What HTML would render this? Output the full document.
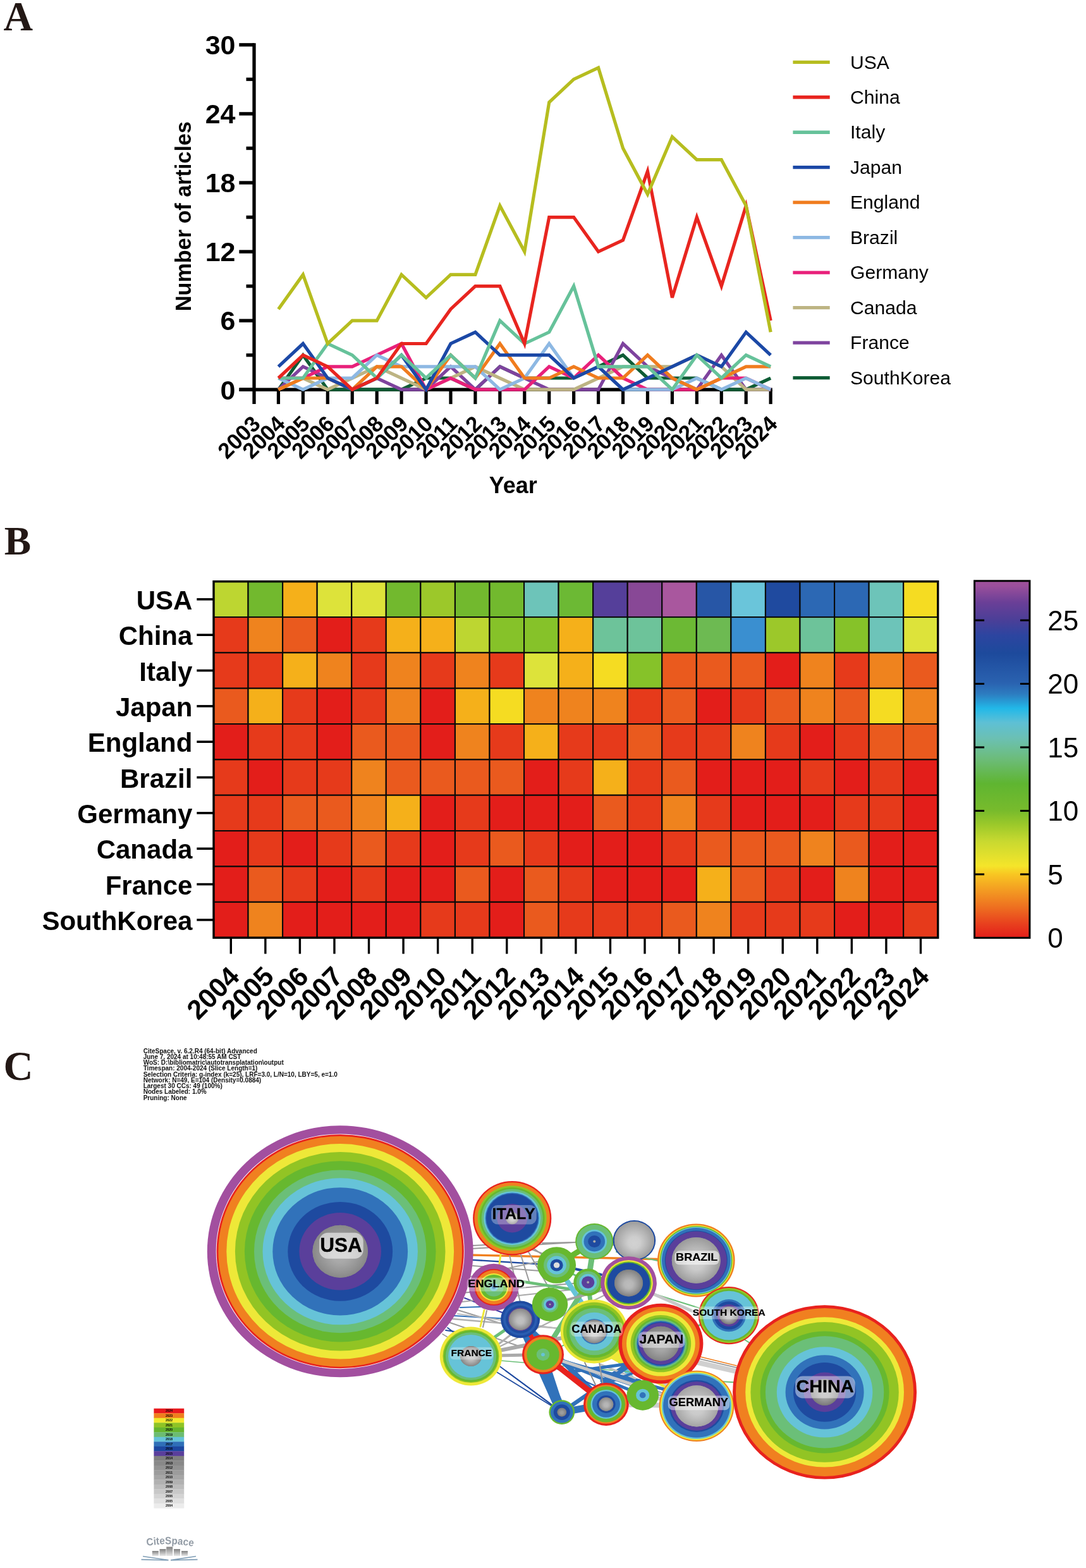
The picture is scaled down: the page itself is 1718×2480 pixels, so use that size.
<!DOCTYPE html>
<html><head><meta charset="utf-8"><title>Figure</title>
<style>html,body{margin:0;padding:0;background:#fff;} svg{display:block;}</style>
</head><body>
<svg width="1718" height="2480" viewBox="0 0 1718 2480">
<rect width="1718" height="2480" fill="#fff"/>
<text x="5.4" y="47.8" font-family="'Liberation Serif', 'Times New Roman', serif" font-weight="bold" font-size="64.5" fill="#231815">A</text>
<line x1="402.0" y1="68.2" x2="402.0" y2="639.1" stroke="#000" stroke-width="5.3"/>
<line x1="378.6" y1="616.2" x2="1221.735" y2="616.2" stroke="#000" stroke-width="5.5"/>
<line x1="378.3" y1="616.20" x2="402.0" y2="616.20" stroke="#000" stroke-width="5.4"/>
<text x="372.5" y="631.50" text-anchor="end" font-family="'Liberation Sans', Arial, sans-serif" font-weight="bold" font-size="43">0</text>
<line x1="389.5" y1="561.67" x2="402.0" y2="561.67" stroke="#000" stroke-width="5.4"/>
<line x1="378.3" y1="507.14" x2="402.0" y2="507.14" stroke="#000" stroke-width="5.4"/>
<text x="372.5" y="522.44" text-anchor="end" font-family="'Liberation Sans', Arial, sans-serif" font-weight="bold" font-size="43">6</text>
<line x1="389.5" y1="452.61" x2="402.0" y2="452.61" stroke="#000" stroke-width="5.4"/>
<line x1="378.3" y1="398.08" x2="402.0" y2="398.08" stroke="#000" stroke-width="5.4"/>
<text x="372.5" y="413.38" text-anchor="end" font-family="'Liberation Sans', Arial, sans-serif" font-weight="bold" font-size="43">12</text>
<line x1="389.5" y1="343.55" x2="402.0" y2="343.55" stroke="#000" stroke-width="5.4"/>
<line x1="378.3" y1="289.01" x2="402.0" y2="289.01" stroke="#000" stroke-width="5.4"/>
<text x="372.5" y="304.31" text-anchor="end" font-family="'Liberation Sans', Arial, sans-serif" font-weight="bold" font-size="43">18</text>
<line x1="389.5" y1="234.48" x2="402.0" y2="234.48" stroke="#000" stroke-width="5.4"/>
<line x1="378.3" y1="179.95" x2="402.0" y2="179.95" stroke="#000" stroke-width="5.4"/>
<text x="372.5" y="195.25" text-anchor="end" font-family="'Liberation Sans', Arial, sans-serif" font-weight="bold" font-size="43">24</text>
<line x1="389.5" y1="125.42" x2="402.0" y2="125.42" stroke="#000" stroke-width="5.4"/>
<line x1="378.3" y1="70.89" x2="402.0" y2="70.89" stroke="#000" stroke-width="5.4"/>
<text x="372.5" y="86.19" text-anchor="end" font-family="'Liberation Sans', Arial, sans-serif" font-weight="bold" font-size="43">30</text>
<line x1="440.44" y1="616.2" x2="440.44" y2="639.1" stroke="#000" stroke-width="5.2"/>
<line x1="479.37" y1="616.2" x2="479.37" y2="639.1" stroke="#000" stroke-width="5.2"/>
<line x1="518.31" y1="616.2" x2="518.31" y2="639.1" stroke="#000" stroke-width="5.2"/>
<line x1="557.24" y1="616.2" x2="557.24" y2="639.1" stroke="#000" stroke-width="5.2"/>
<line x1="596.17" y1="616.2" x2="596.17" y2="639.1" stroke="#000" stroke-width="5.2"/>
<line x1="635.11" y1="616.2" x2="635.11" y2="639.1" stroke="#000" stroke-width="5.2"/>
<line x1="674.05" y1="616.2" x2="674.05" y2="639.1" stroke="#000" stroke-width="5.2"/>
<line x1="712.98" y1="616.2" x2="712.98" y2="639.1" stroke="#000" stroke-width="5.2"/>
<line x1="751.91" y1="616.2" x2="751.91" y2="639.1" stroke="#000" stroke-width="5.2"/>
<line x1="790.85" y1="616.2" x2="790.85" y2="639.1" stroke="#000" stroke-width="5.2"/>
<line x1="829.79" y1="616.2" x2="829.79" y2="639.1" stroke="#000" stroke-width="5.2"/>
<line x1="868.72" y1="616.2" x2="868.72" y2="639.1" stroke="#000" stroke-width="5.2"/>
<line x1="907.65" y1="616.2" x2="907.65" y2="639.1" stroke="#000" stroke-width="5.2"/>
<line x1="946.59" y1="616.2" x2="946.59" y2="639.1" stroke="#000" stroke-width="5.2"/>
<line x1="985.53" y1="616.2" x2="985.53" y2="639.1" stroke="#000" stroke-width="5.2"/>
<line x1="1024.46" y1="616.2" x2="1024.46" y2="639.1" stroke="#000" stroke-width="5.2"/>
<line x1="1063.39" y1="616.2" x2="1063.39" y2="639.1" stroke="#000" stroke-width="5.2"/>
<line x1="1102.33" y1="616.2" x2="1102.33" y2="639.1" stroke="#000" stroke-width="5.2"/>
<line x1="1141.27" y1="616.2" x2="1141.27" y2="639.1" stroke="#000" stroke-width="5.2"/>
<line x1="1180.20" y1="616.2" x2="1180.20" y2="639.1" stroke="#000" stroke-width="5.2"/>
<line x1="1219.13" y1="616.2" x2="1219.13" y2="639.1" stroke="#000" stroke-width="5.2"/>
<text transform="translate(414.10,672.5) rotate(-45)" text-anchor="end" font-family="'Liberation Sans', Arial, sans-serif" font-weight="bold" font-size="35">2003</text>
<text transform="translate(453.04,672.5) rotate(-45)" text-anchor="end" font-family="'Liberation Sans', Arial, sans-serif" font-weight="bold" font-size="35">2004</text>
<text transform="translate(491.97,672.5) rotate(-45)" text-anchor="end" font-family="'Liberation Sans', Arial, sans-serif" font-weight="bold" font-size="35">2005</text>
<text transform="translate(530.91,672.5) rotate(-45)" text-anchor="end" font-family="'Liberation Sans', Arial, sans-serif" font-weight="bold" font-size="35">2006</text>
<text transform="translate(569.84,672.5) rotate(-45)" text-anchor="end" font-family="'Liberation Sans', Arial, sans-serif" font-weight="bold" font-size="35">2007</text>
<text transform="translate(608.77,672.5) rotate(-45)" text-anchor="end" font-family="'Liberation Sans', Arial, sans-serif" font-weight="bold" font-size="35">2008</text>
<text transform="translate(647.71,672.5) rotate(-45)" text-anchor="end" font-family="'Liberation Sans', Arial, sans-serif" font-weight="bold" font-size="35">2009</text>
<text transform="translate(686.65,672.5) rotate(-45)" text-anchor="end" font-family="'Liberation Sans', Arial, sans-serif" font-weight="bold" font-size="35">2010</text>
<text transform="translate(725.58,672.5) rotate(-45)" text-anchor="end" font-family="'Liberation Sans', Arial, sans-serif" font-weight="bold" font-size="35">2011</text>
<text transform="translate(764.51,672.5) rotate(-45)" text-anchor="end" font-family="'Liberation Sans', Arial, sans-serif" font-weight="bold" font-size="35">2012</text>
<text transform="translate(803.45,672.5) rotate(-45)" text-anchor="end" font-family="'Liberation Sans', Arial, sans-serif" font-weight="bold" font-size="35">2013</text>
<text transform="translate(842.39,672.5) rotate(-45)" text-anchor="end" font-family="'Liberation Sans', Arial, sans-serif" font-weight="bold" font-size="35">2014</text>
<text transform="translate(881.32,672.5) rotate(-45)" text-anchor="end" font-family="'Liberation Sans', Arial, sans-serif" font-weight="bold" font-size="35">2015</text>
<text transform="translate(920.25,672.5) rotate(-45)" text-anchor="end" font-family="'Liberation Sans', Arial, sans-serif" font-weight="bold" font-size="35">2016</text>
<text transform="translate(959.19,672.5) rotate(-45)" text-anchor="end" font-family="'Liberation Sans', Arial, sans-serif" font-weight="bold" font-size="35">2017</text>
<text transform="translate(998.13,672.5) rotate(-45)" text-anchor="end" font-family="'Liberation Sans', Arial, sans-serif" font-weight="bold" font-size="35">2018</text>
<text transform="translate(1037.06,672.5) rotate(-45)" text-anchor="end" font-family="'Liberation Sans', Arial, sans-serif" font-weight="bold" font-size="35">2019</text>
<text transform="translate(1075.99,672.5) rotate(-45)" text-anchor="end" font-family="'Liberation Sans', Arial, sans-serif" font-weight="bold" font-size="35">2020</text>
<text transform="translate(1114.93,672.5) rotate(-45)" text-anchor="end" font-family="'Liberation Sans', Arial, sans-serif" font-weight="bold" font-size="35">2021</text>
<text transform="translate(1153.87,672.5) rotate(-45)" text-anchor="end" font-family="'Liberation Sans', Arial, sans-serif" font-weight="bold" font-size="35">2022</text>
<text transform="translate(1192.80,672.5) rotate(-45)" text-anchor="end" font-family="'Liberation Sans', Arial, sans-serif" font-weight="bold" font-size="35">2023</text>
<text transform="translate(1231.73,672.5) rotate(-45)" text-anchor="end" font-family="'Liberation Sans', Arial, sans-serif" font-weight="bold" font-size="35">2024</text>
<text transform="translate(302.2,342.1) rotate(-90)" text-anchor="middle" font-family="'Liberation Sans', Arial, sans-serif" font-weight="bold" font-size="34.2">Number of articles</text>
<text x="811.7" y="780" text-anchor="middle" font-family="'Liberation Sans', Arial, sans-serif" font-weight="bold" font-size="36">Year</text>
<polyline points="440.44,616.20 479.37,561.67 518.31,616.20 557.24,616.20 596.17,616.20 635.11,616.20 674.05,598.02 712.98,598.02 751.91,616.20 790.85,579.85 829.79,598.02 868.72,598.02 907.65,598.02 946.59,579.85 985.53,561.67 1024.46,598.02 1063.39,598.02 1102.33,598.02 1141.27,616.20 1180.20,616.20 1219.13,598.02" fill="none" stroke="#0e5c35" stroke-width="5.2" stroke-linejoin="miter" stroke-miterlimit="4"/>
<polyline points="440.44,616.20 479.37,579.85 518.31,598.02 557.24,616.20 596.17,598.02 635.11,616.20 674.05,616.20 712.98,579.85 751.91,616.20 790.85,579.85 829.79,598.02 868.72,616.20 907.65,616.20 946.59,616.20 985.53,543.49 1024.46,579.85 1063.39,598.02 1102.33,616.20 1141.27,561.67 1180.20,616.20 1219.13,616.20" fill="none" stroke="#7e439e" stroke-width="5.2" stroke-linejoin="miter" stroke-miterlimit="4"/>
<polyline points="440.44,616.20 479.37,598.02 518.31,616.20 557.24,598.02 596.17,579.85 635.11,598.02 674.05,616.20 712.98,598.02 751.91,579.85 790.85,598.02 829.79,616.20 868.72,616.20 907.65,616.20 946.59,598.02 985.53,579.85 1024.46,579.85 1063.39,579.85 1102.33,561.67 1141.27,579.85 1180.20,616.20 1219.13,616.20" fill="none" stroke="#bdb483" stroke-width="5.2" stroke-linejoin="miter" stroke-miterlimit="4"/>
<polyline points="440.44,598.02 479.37,598.02 518.31,579.85 557.24,579.85 596.17,561.67 635.11,543.49 674.05,616.20 712.98,598.02 751.91,616.20 790.85,616.20 829.79,616.20 868.72,579.85 907.65,598.02 946.59,561.67 985.53,598.02 1024.46,616.20 1063.39,616.20 1102.33,616.20 1141.27,598.02 1180.20,598.02 1219.13,616.20" fill="none" stroke="#e8207a" stroke-width="5.2" stroke-linejoin="miter" stroke-miterlimit="4"/>
<polyline points="440.44,598.02 479.37,616.20 518.31,598.02 557.24,598.02 596.17,561.67 635.11,579.85 674.05,579.85 712.98,579.85 751.91,579.85 790.85,616.20 829.79,598.02 868.72,543.49 907.65,598.02 946.59,579.85 985.53,616.20 1024.46,616.20 1063.39,616.20 1102.33,598.02 1141.27,616.20 1180.20,598.02 1219.13,616.20" fill="none" stroke="#8db8e3" stroke-width="5.2" stroke-linejoin="miter" stroke-miterlimit="4"/>
<polyline points="440.44,616.20 479.37,598.02 518.31,598.02 557.24,616.20 596.17,579.85 635.11,579.85 674.05,616.20 712.98,561.67 751.91,598.02 790.85,543.49 829.79,598.02 868.72,598.02 907.65,579.85 946.59,598.02 985.53,598.02 1024.46,561.67 1063.39,598.02 1102.33,616.20 1141.27,598.02 1180.20,579.85 1219.13,579.85" fill="none" stroke="#f07c1e" stroke-width="5.2" stroke-linejoin="miter" stroke-miterlimit="4"/>
<polyline points="440.44,579.85 479.37,543.49 518.31,598.02 557.24,616.20 596.17,598.02 635.11,561.67 674.05,616.20 712.98,543.49 751.91,525.32 790.85,561.67 829.79,561.67 868.72,561.67 907.65,598.02 946.59,579.85 985.53,616.20 1024.46,598.02 1063.39,579.85 1102.33,561.67 1141.27,579.85 1180.20,525.32 1219.13,561.67" fill="none" stroke="#1b48a6" stroke-width="5.2" stroke-linejoin="miter" stroke-miterlimit="4"/>
<polyline points="440.44,598.02 479.37,598.02 518.31,543.49 557.24,561.67 596.17,598.02 635.11,561.67 674.05,598.02 712.98,561.67 751.91,598.02 790.85,507.14 829.79,543.49 868.72,525.32 907.65,452.61 946.59,579.85 985.53,579.85 1024.46,579.85 1063.39,616.20 1102.33,561.67 1141.27,598.02 1180.20,561.67 1219.13,579.85" fill="none" stroke="#66c29a" stroke-width="5.2" stroke-linejoin="miter" stroke-miterlimit="4"/>
<polyline points="440.44,598.02 479.37,561.67 518.31,579.85 557.24,616.20 596.17,598.02 635.11,543.49 674.05,543.49 712.98,488.96 751.91,452.61 790.85,452.61 829.79,543.49 868.72,343.55 907.65,343.55 946.59,398.08 985.53,379.90 1024.46,270.84 1063.39,470.78 1102.33,343.55 1141.27,452.61 1180.20,325.37 1219.13,507.14" fill="none" stroke="#e8251f" stroke-width="5.2" stroke-linejoin="miter" stroke-miterlimit="4"/>
<polyline points="440.44,488.96 479.37,434.43 518.31,543.49 557.24,507.14 596.17,507.14 635.11,434.43 674.05,470.78 712.98,434.43 751.91,434.43 790.85,325.37 829.79,398.08 868.72,161.78 907.65,125.42 946.59,107.24 985.53,234.48 1024.46,307.19 1063.39,216.31 1102.33,252.66 1141.27,252.66 1180.20,325.37 1219.13,525.32" fill="none" stroke="#b6bd1f" stroke-width="5.2" stroke-linejoin="miter" stroke-miterlimit="4"/>
<line x1="1254.4" y1="98.30" x2="1312.7" y2="98.30" stroke="#b6bd1f" stroke-width="5.3"/>
<text x="1345" y="108.50" font-family="'Liberation Sans', Arial, sans-serif" font-size="30.1">USA</text>
<line x1="1254.4" y1="153.77" x2="1312.7" y2="153.77" stroke="#e8251f" stroke-width="5.3"/>
<text x="1345" y="163.97" font-family="'Liberation Sans', Arial, sans-serif" font-size="30.1">China</text>
<line x1="1254.4" y1="209.24" x2="1312.7" y2="209.24" stroke="#66c29a" stroke-width="5.3"/>
<text x="1345" y="219.44" font-family="'Liberation Sans', Arial, sans-serif" font-size="30.1">Italy</text>
<line x1="1254.4" y1="264.71" x2="1312.7" y2="264.71" stroke="#1b48a6" stroke-width="5.3"/>
<text x="1345" y="274.91" font-family="'Liberation Sans', Arial, sans-serif" font-size="30.1">Japan</text>
<line x1="1254.4" y1="320.18" x2="1312.7" y2="320.18" stroke="#f07c1e" stroke-width="5.3"/>
<text x="1345" y="330.38" font-family="'Liberation Sans', Arial, sans-serif" font-size="30.1">England</text>
<line x1="1254.4" y1="375.65" x2="1312.7" y2="375.65" stroke="#8db8e3" stroke-width="5.3"/>
<text x="1345" y="385.85" font-family="'Liberation Sans', Arial, sans-serif" font-size="30.1">Brazil</text>
<line x1="1254.4" y1="431.12" x2="1312.7" y2="431.12" stroke="#e8207a" stroke-width="5.3"/>
<text x="1345" y="441.32" font-family="'Liberation Sans', Arial, sans-serif" font-size="30.1">Germany</text>
<line x1="1254.4" y1="486.59" x2="1312.7" y2="486.59" stroke="#bdb483" stroke-width="5.3"/>
<text x="1345" y="496.79" font-family="'Liberation Sans', Arial, sans-serif" font-size="30.1">Canada</text>
<line x1="1254.4" y1="542.06" x2="1312.7" y2="542.06" stroke="#7e439e" stroke-width="5.3"/>
<text x="1345" y="552.26" font-family="'Liberation Sans', Arial, sans-serif" font-size="30.1">France</text>
<line x1="1254.4" y1="597.53" x2="1312.7" y2="597.53" stroke="#0e5c35" stroke-width="5.3"/>
<text x="1345" y="607.73" font-family="'Liberation Sans', Arial, sans-serif" font-size="30.1">SouthKorea</text>
<text x="6.8" y="877.2" font-family="'Liberation Serif', 'Times New Roman', serif" font-weight="bold" font-size="63.5" fill="#231815">B</text>
<rect x="338.00" y="919.70" width="54.56" height="56.34" fill="#bdd631" stroke="#0a0a0a" stroke-width="2.1"/>
<rect x="392.56" y="919.70" width="54.56" height="56.34" fill="#72b92e" stroke="#0a0a0a" stroke-width="2.1"/>
<rect x="447.12" y="919.70" width="54.56" height="56.34" fill="#f5b01a" stroke="#0a0a0a" stroke-width="2.1"/>
<rect x="501.68" y="919.70" width="54.56" height="56.34" fill="#dde33a" stroke="#0a0a0a" stroke-width="2.1"/>
<rect x="556.24" y="919.70" width="54.56" height="56.34" fill="#dde33a" stroke="#0a0a0a" stroke-width="2.1"/>
<rect x="610.80" y="919.70" width="54.56" height="56.34" fill="#72b92e" stroke="#0a0a0a" stroke-width="2.1"/>
<rect x="665.36" y="919.70" width="54.56" height="56.34" fill="#9cc82a" stroke="#0a0a0a" stroke-width="2.1"/>
<rect x="719.92" y="919.70" width="54.56" height="56.34" fill="#72b92e" stroke="#0a0a0a" stroke-width="2.1"/>
<rect x="774.48" y="919.70" width="54.56" height="56.34" fill="#72b92e" stroke="#0a0a0a" stroke-width="2.1"/>
<rect x="829.04" y="919.70" width="54.56" height="56.34" fill="#6dc4b9" stroke="#0a0a0a" stroke-width="2.1"/>
<rect x="883.60" y="919.70" width="54.56" height="56.34" fill="#6cb934" stroke="#0a0a0a" stroke-width="2.1"/>
<rect x="938.16" y="919.70" width="54.56" height="56.34" fill="#553f9a" stroke="#0a0a0a" stroke-width="2.1"/>
<rect x="992.72" y="919.70" width="54.56" height="56.34" fill="#884896" stroke="#0a0a0a" stroke-width="2.1"/>
<rect x="1047.28" y="919.70" width="54.56" height="56.34" fill="#a9579e" stroke="#0a0a0a" stroke-width="2.1"/>
<rect x="1101.84" y="919.70" width="54.56" height="56.34" fill="#2756a6" stroke="#0a0a0a" stroke-width="2.1"/>
<rect x="1156.40" y="919.70" width="54.56" height="56.34" fill="#6ac5da" stroke="#0a0a0a" stroke-width="2.1"/>
<rect x="1210.96" y="919.70" width="54.56" height="56.34" fill="#1f4a9f" stroke="#0a0a0a" stroke-width="2.1"/>
<rect x="1265.52" y="919.70" width="54.56" height="56.34" fill="#2c68b4" stroke="#0a0a0a" stroke-width="2.1"/>
<rect x="1320.08" y="919.70" width="54.56" height="56.34" fill="#2c68b4" stroke="#0a0a0a" stroke-width="2.1"/>
<rect x="1374.64" y="919.70" width="54.56" height="56.34" fill="#6dc4b9" stroke="#0a0a0a" stroke-width="2.1"/>
<rect x="1429.20" y="919.70" width="54.56" height="56.34" fill="#f5dc22" stroke="#0a0a0a" stroke-width="2.1"/>
<rect x="338.00" y="976.04" width="54.56" height="56.34" fill="#e63a1b" stroke="#0a0a0a" stroke-width="2.1"/>
<rect x="392.56" y="976.04" width="54.56" height="56.34" fill="#ef831e" stroke="#0a0a0a" stroke-width="2.1"/>
<rect x="447.12" y="976.04" width="54.56" height="56.34" fill="#ea5a1e" stroke="#0a0a0a" stroke-width="2.1"/>
<rect x="501.68" y="976.04" width="54.56" height="56.34" fill="#e31e1a" stroke="#0a0a0a" stroke-width="2.1"/>
<rect x="556.24" y="976.04" width="54.56" height="56.34" fill="#e63a1b" stroke="#0a0a0a" stroke-width="2.1"/>
<rect x="610.80" y="976.04" width="54.56" height="56.34" fill="#f5b01a" stroke="#0a0a0a" stroke-width="2.1"/>
<rect x="665.36" y="976.04" width="54.56" height="56.34" fill="#f5b01a" stroke="#0a0a0a" stroke-width="2.1"/>
<rect x="719.92" y="976.04" width="54.56" height="56.34" fill="#bdd631" stroke="#0a0a0a" stroke-width="2.1"/>
<rect x="774.48" y="976.04" width="54.56" height="56.34" fill="#86c229" stroke="#0a0a0a" stroke-width="2.1"/>
<rect x="829.04" y="976.04" width="54.56" height="56.34" fill="#86c229" stroke="#0a0a0a" stroke-width="2.1"/>
<rect x="883.60" y="976.04" width="54.56" height="56.34" fill="#f5b01a" stroke="#0a0a0a" stroke-width="2.1"/>
<rect x="938.16" y="976.04" width="54.56" height="56.34" fill="#6dc39a" stroke="#0a0a0a" stroke-width="2.1"/>
<rect x="992.72" y="976.04" width="54.56" height="56.34" fill="#6dc39a" stroke="#0a0a0a" stroke-width="2.1"/>
<rect x="1047.28" y="976.04" width="54.56" height="56.34" fill="#6cb934" stroke="#0a0a0a" stroke-width="2.1"/>
<rect x="1101.84" y="976.04" width="54.56" height="56.34" fill="#6dba52" stroke="#0a0a0a" stroke-width="2.1"/>
<rect x="1156.40" y="976.04" width="54.56" height="56.34" fill="#3a8fd0" stroke="#0a0a0a" stroke-width="2.1"/>
<rect x="1210.96" y="976.04" width="54.56" height="56.34" fill="#9cc82a" stroke="#0a0a0a" stroke-width="2.1"/>
<rect x="1265.52" y="976.04" width="54.56" height="56.34" fill="#6dc39a" stroke="#0a0a0a" stroke-width="2.1"/>
<rect x="1320.08" y="976.04" width="54.56" height="56.34" fill="#86c229" stroke="#0a0a0a" stroke-width="2.1"/>
<rect x="1374.64" y="976.04" width="54.56" height="56.34" fill="#6dc4b9" stroke="#0a0a0a" stroke-width="2.1"/>
<rect x="1429.20" y="976.04" width="54.56" height="56.34" fill="#dde33a" stroke="#0a0a0a" stroke-width="2.1"/>
<rect x="338.00" y="1032.38" width="54.56" height="56.34" fill="#e63a1b" stroke="#0a0a0a" stroke-width="2.1"/>
<rect x="392.56" y="1032.38" width="54.56" height="56.34" fill="#e63a1b" stroke="#0a0a0a" stroke-width="2.1"/>
<rect x="447.12" y="1032.38" width="54.56" height="56.34" fill="#f5b01a" stroke="#0a0a0a" stroke-width="2.1"/>
<rect x="501.68" y="1032.38" width="54.56" height="56.34" fill="#ef831e" stroke="#0a0a0a" stroke-width="2.1"/>
<rect x="556.24" y="1032.38" width="54.56" height="56.34" fill="#e63a1b" stroke="#0a0a0a" stroke-width="2.1"/>
<rect x="610.80" y="1032.38" width="54.56" height="56.34" fill="#ef831e" stroke="#0a0a0a" stroke-width="2.1"/>
<rect x="665.36" y="1032.38" width="54.56" height="56.34" fill="#e63a1b" stroke="#0a0a0a" stroke-width="2.1"/>
<rect x="719.92" y="1032.38" width="54.56" height="56.34" fill="#ef831e" stroke="#0a0a0a" stroke-width="2.1"/>
<rect x="774.48" y="1032.38" width="54.56" height="56.34" fill="#e63a1b" stroke="#0a0a0a" stroke-width="2.1"/>
<rect x="829.04" y="1032.38" width="54.56" height="56.34" fill="#dde33a" stroke="#0a0a0a" stroke-width="2.1"/>
<rect x="883.60" y="1032.38" width="54.56" height="56.34" fill="#f5b01a" stroke="#0a0a0a" stroke-width="2.1"/>
<rect x="938.16" y="1032.38" width="54.56" height="56.34" fill="#f5dc22" stroke="#0a0a0a" stroke-width="2.1"/>
<rect x="992.72" y="1032.38" width="54.56" height="56.34" fill="#86c229" stroke="#0a0a0a" stroke-width="2.1"/>
<rect x="1047.28" y="1032.38" width="54.56" height="56.34" fill="#ea5a1e" stroke="#0a0a0a" stroke-width="2.1"/>
<rect x="1101.84" y="1032.38" width="54.56" height="56.34" fill="#ea5a1e" stroke="#0a0a0a" stroke-width="2.1"/>
<rect x="1156.40" y="1032.38" width="54.56" height="56.34" fill="#ea5a1e" stroke="#0a0a0a" stroke-width="2.1"/>
<rect x="1210.96" y="1032.38" width="54.56" height="56.34" fill="#e31e1a" stroke="#0a0a0a" stroke-width="2.1"/>
<rect x="1265.52" y="1032.38" width="54.56" height="56.34" fill="#ef831e" stroke="#0a0a0a" stroke-width="2.1"/>
<rect x="1320.08" y="1032.38" width="54.56" height="56.34" fill="#e63a1b" stroke="#0a0a0a" stroke-width="2.1"/>
<rect x="1374.64" y="1032.38" width="54.56" height="56.34" fill="#ef831e" stroke="#0a0a0a" stroke-width="2.1"/>
<rect x="1429.20" y="1032.38" width="54.56" height="56.34" fill="#ea5a1e" stroke="#0a0a0a" stroke-width="2.1"/>
<rect x="338.00" y="1088.72" width="54.56" height="56.34" fill="#ea5a1e" stroke="#0a0a0a" stroke-width="2.1"/>
<rect x="392.56" y="1088.72" width="54.56" height="56.34" fill="#f5b01a" stroke="#0a0a0a" stroke-width="2.1"/>
<rect x="447.12" y="1088.72" width="54.56" height="56.34" fill="#e63a1b" stroke="#0a0a0a" stroke-width="2.1"/>
<rect x="501.68" y="1088.72" width="54.56" height="56.34" fill="#e31e1a" stroke="#0a0a0a" stroke-width="2.1"/>
<rect x="556.24" y="1088.72" width="54.56" height="56.34" fill="#e63a1b" stroke="#0a0a0a" stroke-width="2.1"/>
<rect x="610.80" y="1088.72" width="54.56" height="56.34" fill="#ef831e" stroke="#0a0a0a" stroke-width="2.1"/>
<rect x="665.36" y="1088.72" width="54.56" height="56.34" fill="#e31e1a" stroke="#0a0a0a" stroke-width="2.1"/>
<rect x="719.92" y="1088.72" width="54.56" height="56.34" fill="#f5b01a" stroke="#0a0a0a" stroke-width="2.1"/>
<rect x="774.48" y="1088.72" width="54.56" height="56.34" fill="#f5dc22" stroke="#0a0a0a" stroke-width="2.1"/>
<rect x="829.04" y="1088.72" width="54.56" height="56.34" fill="#ef831e" stroke="#0a0a0a" stroke-width="2.1"/>
<rect x="883.60" y="1088.72" width="54.56" height="56.34" fill="#ef831e" stroke="#0a0a0a" stroke-width="2.1"/>
<rect x="938.16" y="1088.72" width="54.56" height="56.34" fill="#ef831e" stroke="#0a0a0a" stroke-width="2.1"/>
<rect x="992.72" y="1088.72" width="54.56" height="56.34" fill="#e63a1b" stroke="#0a0a0a" stroke-width="2.1"/>
<rect x="1047.28" y="1088.72" width="54.56" height="56.34" fill="#ea5a1e" stroke="#0a0a0a" stroke-width="2.1"/>
<rect x="1101.84" y="1088.72" width="54.56" height="56.34" fill="#e31e1a" stroke="#0a0a0a" stroke-width="2.1"/>
<rect x="1156.40" y="1088.72" width="54.56" height="56.34" fill="#e63a1b" stroke="#0a0a0a" stroke-width="2.1"/>
<rect x="1210.96" y="1088.72" width="54.56" height="56.34" fill="#ea5a1e" stroke="#0a0a0a" stroke-width="2.1"/>
<rect x="1265.52" y="1088.72" width="54.56" height="56.34" fill="#ef831e" stroke="#0a0a0a" stroke-width="2.1"/>
<rect x="1320.08" y="1088.72" width="54.56" height="56.34" fill="#ea5a1e" stroke="#0a0a0a" stroke-width="2.1"/>
<rect x="1374.64" y="1088.72" width="54.56" height="56.34" fill="#f5dc22" stroke="#0a0a0a" stroke-width="2.1"/>
<rect x="1429.20" y="1088.72" width="54.56" height="56.34" fill="#ef831e" stroke="#0a0a0a" stroke-width="2.1"/>
<rect x="338.00" y="1145.06" width="54.56" height="56.34" fill="#e31e1a" stroke="#0a0a0a" stroke-width="2.1"/>
<rect x="392.56" y="1145.06" width="54.56" height="56.34" fill="#e63a1b" stroke="#0a0a0a" stroke-width="2.1"/>
<rect x="447.12" y="1145.06" width="54.56" height="56.34" fill="#e63a1b" stroke="#0a0a0a" stroke-width="2.1"/>
<rect x="501.68" y="1145.06" width="54.56" height="56.34" fill="#e31e1a" stroke="#0a0a0a" stroke-width="2.1"/>
<rect x="556.24" y="1145.06" width="54.56" height="56.34" fill="#ea5a1e" stroke="#0a0a0a" stroke-width="2.1"/>
<rect x="610.80" y="1145.06" width="54.56" height="56.34" fill="#ea5a1e" stroke="#0a0a0a" stroke-width="2.1"/>
<rect x="665.36" y="1145.06" width="54.56" height="56.34" fill="#e31e1a" stroke="#0a0a0a" stroke-width="2.1"/>
<rect x="719.92" y="1145.06" width="54.56" height="56.34" fill="#ef831e" stroke="#0a0a0a" stroke-width="2.1"/>
<rect x="774.48" y="1145.06" width="54.56" height="56.34" fill="#e63a1b" stroke="#0a0a0a" stroke-width="2.1"/>
<rect x="829.04" y="1145.06" width="54.56" height="56.34" fill="#f5b01a" stroke="#0a0a0a" stroke-width="2.1"/>
<rect x="883.60" y="1145.06" width="54.56" height="56.34" fill="#e63a1b" stroke="#0a0a0a" stroke-width="2.1"/>
<rect x="938.16" y="1145.06" width="54.56" height="56.34" fill="#e63a1b" stroke="#0a0a0a" stroke-width="2.1"/>
<rect x="992.72" y="1145.06" width="54.56" height="56.34" fill="#ea5a1e" stroke="#0a0a0a" stroke-width="2.1"/>
<rect x="1047.28" y="1145.06" width="54.56" height="56.34" fill="#e63a1b" stroke="#0a0a0a" stroke-width="2.1"/>
<rect x="1101.84" y="1145.06" width="54.56" height="56.34" fill="#e63a1b" stroke="#0a0a0a" stroke-width="2.1"/>
<rect x="1156.40" y="1145.06" width="54.56" height="56.34" fill="#ef831e" stroke="#0a0a0a" stroke-width="2.1"/>
<rect x="1210.96" y="1145.06" width="54.56" height="56.34" fill="#e63a1b" stroke="#0a0a0a" stroke-width="2.1"/>
<rect x="1265.52" y="1145.06" width="54.56" height="56.34" fill="#e31e1a" stroke="#0a0a0a" stroke-width="2.1"/>
<rect x="1320.08" y="1145.06" width="54.56" height="56.34" fill="#e63a1b" stroke="#0a0a0a" stroke-width="2.1"/>
<rect x="1374.64" y="1145.06" width="54.56" height="56.34" fill="#ea5a1e" stroke="#0a0a0a" stroke-width="2.1"/>
<rect x="1429.20" y="1145.06" width="54.56" height="56.34" fill="#ea5a1e" stroke="#0a0a0a" stroke-width="2.1"/>
<rect x="338.00" y="1201.40" width="54.56" height="56.34" fill="#e63a1b" stroke="#0a0a0a" stroke-width="2.1"/>
<rect x="392.56" y="1201.40" width="54.56" height="56.34" fill="#e31e1a" stroke="#0a0a0a" stroke-width="2.1"/>
<rect x="447.12" y="1201.40" width="54.56" height="56.34" fill="#e63a1b" stroke="#0a0a0a" stroke-width="2.1"/>
<rect x="501.68" y="1201.40" width="54.56" height="56.34" fill="#e63a1b" stroke="#0a0a0a" stroke-width="2.1"/>
<rect x="556.24" y="1201.40" width="54.56" height="56.34" fill="#ef831e" stroke="#0a0a0a" stroke-width="2.1"/>
<rect x="610.80" y="1201.40" width="54.56" height="56.34" fill="#ea5a1e" stroke="#0a0a0a" stroke-width="2.1"/>
<rect x="665.36" y="1201.40" width="54.56" height="56.34" fill="#ea5a1e" stroke="#0a0a0a" stroke-width="2.1"/>
<rect x="719.92" y="1201.40" width="54.56" height="56.34" fill="#ea5a1e" stroke="#0a0a0a" stroke-width="2.1"/>
<rect x="774.48" y="1201.40" width="54.56" height="56.34" fill="#ea5a1e" stroke="#0a0a0a" stroke-width="2.1"/>
<rect x="829.04" y="1201.40" width="54.56" height="56.34" fill="#e31e1a" stroke="#0a0a0a" stroke-width="2.1"/>
<rect x="883.60" y="1201.40" width="54.56" height="56.34" fill="#e63a1b" stroke="#0a0a0a" stroke-width="2.1"/>
<rect x="938.16" y="1201.40" width="54.56" height="56.34" fill="#f5b01a" stroke="#0a0a0a" stroke-width="2.1"/>
<rect x="992.72" y="1201.40" width="54.56" height="56.34" fill="#e63a1b" stroke="#0a0a0a" stroke-width="2.1"/>
<rect x="1047.28" y="1201.40" width="54.56" height="56.34" fill="#ea5a1e" stroke="#0a0a0a" stroke-width="2.1"/>
<rect x="1101.84" y="1201.40" width="54.56" height="56.34" fill="#e31e1a" stroke="#0a0a0a" stroke-width="2.1"/>
<rect x="1156.40" y="1201.40" width="54.56" height="56.34" fill="#e31e1a" stroke="#0a0a0a" stroke-width="2.1"/>
<rect x="1210.96" y="1201.40" width="54.56" height="56.34" fill="#e31e1a" stroke="#0a0a0a" stroke-width="2.1"/>
<rect x="1265.52" y="1201.40" width="54.56" height="56.34" fill="#e63a1b" stroke="#0a0a0a" stroke-width="2.1"/>
<rect x="1320.08" y="1201.40" width="54.56" height="56.34" fill="#e31e1a" stroke="#0a0a0a" stroke-width="2.1"/>
<rect x="1374.64" y="1201.40" width="54.56" height="56.34" fill="#e63a1b" stroke="#0a0a0a" stroke-width="2.1"/>
<rect x="1429.20" y="1201.40" width="54.56" height="56.34" fill="#e31e1a" stroke="#0a0a0a" stroke-width="2.1"/>
<rect x="338.00" y="1257.74" width="54.56" height="56.34" fill="#e63a1b" stroke="#0a0a0a" stroke-width="2.1"/>
<rect x="392.56" y="1257.74" width="54.56" height="56.34" fill="#e63a1b" stroke="#0a0a0a" stroke-width="2.1"/>
<rect x="447.12" y="1257.74" width="54.56" height="56.34" fill="#ea5a1e" stroke="#0a0a0a" stroke-width="2.1"/>
<rect x="501.68" y="1257.74" width="54.56" height="56.34" fill="#ea5a1e" stroke="#0a0a0a" stroke-width="2.1"/>
<rect x="556.24" y="1257.74" width="54.56" height="56.34" fill="#ef831e" stroke="#0a0a0a" stroke-width="2.1"/>
<rect x="610.80" y="1257.74" width="54.56" height="56.34" fill="#f5b01a" stroke="#0a0a0a" stroke-width="2.1"/>
<rect x="665.36" y="1257.74" width="54.56" height="56.34" fill="#e31e1a" stroke="#0a0a0a" stroke-width="2.1"/>
<rect x="719.92" y="1257.74" width="54.56" height="56.34" fill="#e63a1b" stroke="#0a0a0a" stroke-width="2.1"/>
<rect x="774.48" y="1257.74" width="54.56" height="56.34" fill="#e31e1a" stroke="#0a0a0a" stroke-width="2.1"/>
<rect x="829.04" y="1257.74" width="54.56" height="56.34" fill="#e31e1a" stroke="#0a0a0a" stroke-width="2.1"/>
<rect x="883.60" y="1257.74" width="54.56" height="56.34" fill="#e31e1a" stroke="#0a0a0a" stroke-width="2.1"/>
<rect x="938.16" y="1257.74" width="54.56" height="56.34" fill="#ea5a1e" stroke="#0a0a0a" stroke-width="2.1"/>
<rect x="992.72" y="1257.74" width="54.56" height="56.34" fill="#e63a1b" stroke="#0a0a0a" stroke-width="2.1"/>
<rect x="1047.28" y="1257.74" width="54.56" height="56.34" fill="#ef831e" stroke="#0a0a0a" stroke-width="2.1"/>
<rect x="1101.84" y="1257.74" width="54.56" height="56.34" fill="#e63a1b" stroke="#0a0a0a" stroke-width="2.1"/>
<rect x="1156.40" y="1257.74" width="54.56" height="56.34" fill="#e31e1a" stroke="#0a0a0a" stroke-width="2.1"/>
<rect x="1210.96" y="1257.74" width="54.56" height="56.34" fill="#e31e1a" stroke="#0a0a0a" stroke-width="2.1"/>
<rect x="1265.52" y="1257.74" width="54.56" height="56.34" fill="#e31e1a" stroke="#0a0a0a" stroke-width="2.1"/>
<rect x="1320.08" y="1257.74" width="54.56" height="56.34" fill="#e63a1b" stroke="#0a0a0a" stroke-width="2.1"/>
<rect x="1374.64" y="1257.74" width="54.56" height="56.34" fill="#e63a1b" stroke="#0a0a0a" stroke-width="2.1"/>
<rect x="1429.20" y="1257.74" width="54.56" height="56.34" fill="#e31e1a" stroke="#0a0a0a" stroke-width="2.1"/>
<rect x="338.00" y="1314.08" width="54.56" height="56.34" fill="#e31e1a" stroke="#0a0a0a" stroke-width="2.1"/>
<rect x="392.56" y="1314.08" width="54.56" height="56.34" fill="#e63a1b" stroke="#0a0a0a" stroke-width="2.1"/>
<rect x="447.12" y="1314.08" width="54.56" height="56.34" fill="#e31e1a" stroke="#0a0a0a" stroke-width="2.1"/>
<rect x="501.68" y="1314.08" width="54.56" height="56.34" fill="#e63a1b" stroke="#0a0a0a" stroke-width="2.1"/>
<rect x="556.24" y="1314.08" width="54.56" height="56.34" fill="#ea5a1e" stroke="#0a0a0a" stroke-width="2.1"/>
<rect x="610.80" y="1314.08" width="54.56" height="56.34" fill="#e63a1b" stroke="#0a0a0a" stroke-width="2.1"/>
<rect x="665.36" y="1314.08" width="54.56" height="56.34" fill="#e31e1a" stroke="#0a0a0a" stroke-width="2.1"/>
<rect x="719.92" y="1314.08" width="54.56" height="56.34" fill="#e63a1b" stroke="#0a0a0a" stroke-width="2.1"/>
<rect x="774.48" y="1314.08" width="54.56" height="56.34" fill="#ea5a1e" stroke="#0a0a0a" stroke-width="2.1"/>
<rect x="829.04" y="1314.08" width="54.56" height="56.34" fill="#e63a1b" stroke="#0a0a0a" stroke-width="2.1"/>
<rect x="883.60" y="1314.08" width="54.56" height="56.34" fill="#e31e1a" stroke="#0a0a0a" stroke-width="2.1"/>
<rect x="938.16" y="1314.08" width="54.56" height="56.34" fill="#e31e1a" stroke="#0a0a0a" stroke-width="2.1"/>
<rect x="992.72" y="1314.08" width="54.56" height="56.34" fill="#e31e1a" stroke="#0a0a0a" stroke-width="2.1"/>
<rect x="1047.28" y="1314.08" width="54.56" height="56.34" fill="#e63a1b" stroke="#0a0a0a" stroke-width="2.1"/>
<rect x="1101.84" y="1314.08" width="54.56" height="56.34" fill="#ea5a1e" stroke="#0a0a0a" stroke-width="2.1"/>
<rect x="1156.40" y="1314.08" width="54.56" height="56.34" fill="#ea5a1e" stroke="#0a0a0a" stroke-width="2.1"/>
<rect x="1210.96" y="1314.08" width="54.56" height="56.34" fill="#ea5a1e" stroke="#0a0a0a" stroke-width="2.1"/>
<rect x="1265.52" y="1314.08" width="54.56" height="56.34" fill="#ef831e" stroke="#0a0a0a" stroke-width="2.1"/>
<rect x="1320.08" y="1314.08" width="54.56" height="56.34" fill="#ea5a1e" stroke="#0a0a0a" stroke-width="2.1"/>
<rect x="1374.64" y="1314.08" width="54.56" height="56.34" fill="#e31e1a" stroke="#0a0a0a" stroke-width="2.1"/>
<rect x="1429.20" y="1314.08" width="54.56" height="56.34" fill="#e31e1a" stroke="#0a0a0a" stroke-width="2.1"/>
<rect x="338.00" y="1370.42" width="54.56" height="56.34" fill="#e31e1a" stroke="#0a0a0a" stroke-width="2.1"/>
<rect x="392.56" y="1370.42" width="54.56" height="56.34" fill="#ea5a1e" stroke="#0a0a0a" stroke-width="2.1"/>
<rect x="447.12" y="1370.42" width="54.56" height="56.34" fill="#e63a1b" stroke="#0a0a0a" stroke-width="2.1"/>
<rect x="501.68" y="1370.42" width="54.56" height="56.34" fill="#e31e1a" stroke="#0a0a0a" stroke-width="2.1"/>
<rect x="556.24" y="1370.42" width="54.56" height="56.34" fill="#e63a1b" stroke="#0a0a0a" stroke-width="2.1"/>
<rect x="610.80" y="1370.42" width="54.56" height="56.34" fill="#e31e1a" stroke="#0a0a0a" stroke-width="2.1"/>
<rect x="665.36" y="1370.42" width="54.56" height="56.34" fill="#e31e1a" stroke="#0a0a0a" stroke-width="2.1"/>
<rect x="719.92" y="1370.42" width="54.56" height="56.34" fill="#ea5a1e" stroke="#0a0a0a" stroke-width="2.1"/>
<rect x="774.48" y="1370.42" width="54.56" height="56.34" fill="#e31e1a" stroke="#0a0a0a" stroke-width="2.1"/>
<rect x="829.04" y="1370.42" width="54.56" height="56.34" fill="#ea5a1e" stroke="#0a0a0a" stroke-width="2.1"/>
<rect x="883.60" y="1370.42" width="54.56" height="56.34" fill="#e63a1b" stroke="#0a0a0a" stroke-width="2.1"/>
<rect x="938.16" y="1370.42" width="54.56" height="56.34" fill="#e31e1a" stroke="#0a0a0a" stroke-width="2.1"/>
<rect x="992.72" y="1370.42" width="54.56" height="56.34" fill="#e31e1a" stroke="#0a0a0a" stroke-width="2.1"/>
<rect x="1047.28" y="1370.42" width="54.56" height="56.34" fill="#e31e1a" stroke="#0a0a0a" stroke-width="2.1"/>
<rect x="1101.84" y="1370.42" width="54.56" height="56.34" fill="#f5b01a" stroke="#0a0a0a" stroke-width="2.1"/>
<rect x="1156.40" y="1370.42" width="54.56" height="56.34" fill="#ea5a1e" stroke="#0a0a0a" stroke-width="2.1"/>
<rect x="1210.96" y="1370.42" width="54.56" height="56.34" fill="#e63a1b" stroke="#0a0a0a" stroke-width="2.1"/>
<rect x="1265.52" y="1370.42" width="54.56" height="56.34" fill="#e31e1a" stroke="#0a0a0a" stroke-width="2.1"/>
<rect x="1320.08" y="1370.42" width="54.56" height="56.34" fill="#ef831e" stroke="#0a0a0a" stroke-width="2.1"/>
<rect x="1374.64" y="1370.42" width="54.56" height="56.34" fill="#e31e1a" stroke="#0a0a0a" stroke-width="2.1"/>
<rect x="1429.20" y="1370.42" width="54.56" height="56.34" fill="#e31e1a" stroke="#0a0a0a" stroke-width="2.1"/>
<rect x="338.00" y="1426.76" width="54.56" height="56.34" fill="#e31e1a" stroke="#0a0a0a" stroke-width="2.1"/>
<rect x="392.56" y="1426.76" width="54.56" height="56.34" fill="#ef831e" stroke="#0a0a0a" stroke-width="2.1"/>
<rect x="447.12" y="1426.76" width="54.56" height="56.34" fill="#e31e1a" stroke="#0a0a0a" stroke-width="2.1"/>
<rect x="501.68" y="1426.76" width="54.56" height="56.34" fill="#e31e1a" stroke="#0a0a0a" stroke-width="2.1"/>
<rect x="556.24" y="1426.76" width="54.56" height="56.34" fill="#e31e1a" stroke="#0a0a0a" stroke-width="2.1"/>
<rect x="610.80" y="1426.76" width="54.56" height="56.34" fill="#e31e1a" stroke="#0a0a0a" stroke-width="2.1"/>
<rect x="665.36" y="1426.76" width="54.56" height="56.34" fill="#e63a1b" stroke="#0a0a0a" stroke-width="2.1"/>
<rect x="719.92" y="1426.76" width="54.56" height="56.34" fill="#e63a1b" stroke="#0a0a0a" stroke-width="2.1"/>
<rect x="774.48" y="1426.76" width="54.56" height="56.34" fill="#e31e1a" stroke="#0a0a0a" stroke-width="2.1"/>
<rect x="829.04" y="1426.76" width="54.56" height="56.34" fill="#ea5a1e" stroke="#0a0a0a" stroke-width="2.1"/>
<rect x="883.60" y="1426.76" width="54.56" height="56.34" fill="#e63a1b" stroke="#0a0a0a" stroke-width="2.1"/>
<rect x="938.16" y="1426.76" width="54.56" height="56.34" fill="#e63a1b" stroke="#0a0a0a" stroke-width="2.1"/>
<rect x="992.72" y="1426.76" width="54.56" height="56.34" fill="#e63a1b" stroke="#0a0a0a" stroke-width="2.1"/>
<rect x="1047.28" y="1426.76" width="54.56" height="56.34" fill="#ea5a1e" stroke="#0a0a0a" stroke-width="2.1"/>
<rect x="1101.84" y="1426.76" width="54.56" height="56.34" fill="#ef831e" stroke="#0a0a0a" stroke-width="2.1"/>
<rect x="1156.40" y="1426.76" width="54.56" height="56.34" fill="#e63a1b" stroke="#0a0a0a" stroke-width="2.1"/>
<rect x="1210.96" y="1426.76" width="54.56" height="56.34" fill="#e63a1b" stroke="#0a0a0a" stroke-width="2.1"/>
<rect x="1265.52" y="1426.76" width="54.56" height="56.34" fill="#e63a1b" stroke="#0a0a0a" stroke-width="2.1"/>
<rect x="1320.08" y="1426.76" width="54.56" height="56.34" fill="#e31e1a" stroke="#0a0a0a" stroke-width="2.1"/>
<rect x="1374.64" y="1426.76" width="54.56" height="56.34" fill="#e31e1a" stroke="#0a0a0a" stroke-width="2.1"/>
<rect x="1429.20" y="1426.76" width="54.56" height="56.34" fill="#e63a1b" stroke="#0a0a0a" stroke-width="2.1"/>
<rect x="338.00" y="919.70" width="1145.76" height="563.40" fill="none" stroke="#000" stroke-width="3.4"/>
<line x1="311.3" y1="947.87" x2="338.0" y2="947.87" stroke="#000" stroke-width="3.6"/>
<text x="304.4" y="963.87" text-anchor="end" font-family="'Liberation Sans', Arial, sans-serif" font-weight="bold" font-size="42">USA</text>
<line x1="311.3" y1="1004.21" x2="338.0" y2="1004.21" stroke="#000" stroke-width="3.6"/>
<text x="304.4" y="1020.21" text-anchor="end" font-family="'Liberation Sans', Arial, sans-serif" font-weight="bold" font-size="42">China</text>
<line x1="311.3" y1="1060.55" x2="338.0" y2="1060.55" stroke="#000" stroke-width="3.6"/>
<text x="304.4" y="1076.55" text-anchor="end" font-family="'Liberation Sans', Arial, sans-serif" font-weight="bold" font-size="42">Italy</text>
<line x1="311.3" y1="1116.89" x2="338.0" y2="1116.89" stroke="#000" stroke-width="3.6"/>
<text x="304.4" y="1132.89" text-anchor="end" font-family="'Liberation Sans', Arial, sans-serif" font-weight="bold" font-size="42">Japan</text>
<line x1="311.3" y1="1173.23" x2="338.0" y2="1173.23" stroke="#000" stroke-width="3.6"/>
<text x="304.4" y="1189.23" text-anchor="end" font-family="'Liberation Sans', Arial, sans-serif" font-weight="bold" font-size="42">England</text>
<line x1="311.3" y1="1229.57" x2="338.0" y2="1229.57" stroke="#000" stroke-width="3.6"/>
<text x="304.4" y="1245.57" text-anchor="end" font-family="'Liberation Sans', Arial, sans-serif" font-weight="bold" font-size="42">Brazil</text>
<line x1="311.3" y1="1285.91" x2="338.0" y2="1285.91" stroke="#000" stroke-width="3.6"/>
<text x="304.4" y="1301.91" text-anchor="end" font-family="'Liberation Sans', Arial, sans-serif" font-weight="bold" font-size="42">Germany</text>
<line x1="311.3" y1="1342.25" x2="338.0" y2="1342.25" stroke="#000" stroke-width="3.6"/>
<text x="304.4" y="1358.25" text-anchor="end" font-family="'Liberation Sans', Arial, sans-serif" font-weight="bold" font-size="42">Canada</text>
<line x1="311.3" y1="1398.59" x2="338.0" y2="1398.59" stroke="#000" stroke-width="3.6"/>
<text x="304.4" y="1414.59" text-anchor="end" font-family="'Liberation Sans', Arial, sans-serif" font-weight="bold" font-size="42">France</text>
<line x1="311.3" y1="1454.93" x2="338.0" y2="1454.93" stroke="#000" stroke-width="3.6"/>
<text x="304.4" y="1470.93" text-anchor="end" font-family="'Liberation Sans', Arial, sans-serif" font-weight="bold" font-size="42">SouthKorea</text>
<line x1="365.28" y1="1483.10" x2="365.28" y2="1508.6" stroke="#000" stroke-width="3.4"/>
<text transform="translate(381.18,1547) rotate(-45)" text-anchor="end" font-family="'Liberation Sans', Arial, sans-serif" font-weight="bold" font-size="43">2004</text>
<line x1="419.84" y1="1483.10" x2="419.84" y2="1508.6" stroke="#000" stroke-width="3.4"/>
<text transform="translate(435.74,1547) rotate(-45)" text-anchor="end" font-family="'Liberation Sans', Arial, sans-serif" font-weight="bold" font-size="43">2005</text>
<line x1="474.40" y1="1483.10" x2="474.40" y2="1508.6" stroke="#000" stroke-width="3.4"/>
<text transform="translate(490.30,1547) rotate(-45)" text-anchor="end" font-family="'Liberation Sans', Arial, sans-serif" font-weight="bold" font-size="43">2006</text>
<line x1="528.96" y1="1483.10" x2="528.96" y2="1508.6" stroke="#000" stroke-width="3.4"/>
<text transform="translate(544.86,1547) rotate(-45)" text-anchor="end" font-family="'Liberation Sans', Arial, sans-serif" font-weight="bold" font-size="43">2007</text>
<line x1="583.52" y1="1483.10" x2="583.52" y2="1508.6" stroke="#000" stroke-width="3.4"/>
<text transform="translate(599.42,1547) rotate(-45)" text-anchor="end" font-family="'Liberation Sans', Arial, sans-serif" font-weight="bold" font-size="43">2008</text>
<line x1="638.08" y1="1483.10" x2="638.08" y2="1508.6" stroke="#000" stroke-width="3.4"/>
<text transform="translate(653.98,1547) rotate(-45)" text-anchor="end" font-family="'Liberation Sans', Arial, sans-serif" font-weight="bold" font-size="43">2009</text>
<line x1="692.64" y1="1483.10" x2="692.64" y2="1508.6" stroke="#000" stroke-width="3.4"/>
<text transform="translate(708.54,1547) rotate(-45)" text-anchor="end" font-family="'Liberation Sans', Arial, sans-serif" font-weight="bold" font-size="43">2010</text>
<line x1="747.20" y1="1483.10" x2="747.20" y2="1508.6" stroke="#000" stroke-width="3.4"/>
<text transform="translate(763.10,1547) rotate(-45)" text-anchor="end" font-family="'Liberation Sans', Arial, sans-serif" font-weight="bold" font-size="43">2011</text>
<line x1="801.76" y1="1483.10" x2="801.76" y2="1508.6" stroke="#000" stroke-width="3.4"/>
<text transform="translate(817.66,1547) rotate(-45)" text-anchor="end" font-family="'Liberation Sans', Arial, sans-serif" font-weight="bold" font-size="43">2012</text>
<line x1="856.32" y1="1483.10" x2="856.32" y2="1508.6" stroke="#000" stroke-width="3.4"/>
<text transform="translate(872.22,1547) rotate(-45)" text-anchor="end" font-family="'Liberation Sans', Arial, sans-serif" font-weight="bold" font-size="43">2013</text>
<line x1="910.88" y1="1483.10" x2="910.88" y2="1508.6" stroke="#000" stroke-width="3.4"/>
<text transform="translate(926.78,1547) rotate(-45)" text-anchor="end" font-family="'Liberation Sans', Arial, sans-serif" font-weight="bold" font-size="43">2014</text>
<line x1="965.44" y1="1483.10" x2="965.44" y2="1508.6" stroke="#000" stroke-width="3.4"/>
<text transform="translate(981.34,1547) rotate(-45)" text-anchor="end" font-family="'Liberation Sans', Arial, sans-serif" font-weight="bold" font-size="43">2015</text>
<line x1="1020.00" y1="1483.10" x2="1020.00" y2="1508.6" stroke="#000" stroke-width="3.4"/>
<text transform="translate(1035.90,1547) rotate(-45)" text-anchor="end" font-family="'Liberation Sans', Arial, sans-serif" font-weight="bold" font-size="43">2016</text>
<line x1="1074.56" y1="1483.10" x2="1074.56" y2="1508.6" stroke="#000" stroke-width="3.4"/>
<text transform="translate(1090.46,1547) rotate(-45)" text-anchor="end" font-family="'Liberation Sans', Arial, sans-serif" font-weight="bold" font-size="43">2017</text>
<line x1="1129.12" y1="1483.10" x2="1129.12" y2="1508.6" stroke="#000" stroke-width="3.4"/>
<text transform="translate(1145.02,1547) rotate(-45)" text-anchor="end" font-family="'Liberation Sans', Arial, sans-serif" font-weight="bold" font-size="43">2018</text>
<line x1="1183.68" y1="1483.10" x2="1183.68" y2="1508.6" stroke="#000" stroke-width="3.4"/>
<text transform="translate(1199.58,1547) rotate(-45)" text-anchor="end" font-family="'Liberation Sans', Arial, sans-serif" font-weight="bold" font-size="43">2019</text>
<line x1="1238.24" y1="1483.10" x2="1238.24" y2="1508.6" stroke="#000" stroke-width="3.4"/>
<text transform="translate(1254.14,1547) rotate(-45)" text-anchor="end" font-family="'Liberation Sans', Arial, sans-serif" font-weight="bold" font-size="43">2020</text>
<line x1="1292.80" y1="1483.10" x2="1292.80" y2="1508.6" stroke="#000" stroke-width="3.4"/>
<text transform="translate(1308.70,1547) rotate(-45)" text-anchor="end" font-family="'Liberation Sans', Arial, sans-serif" font-weight="bold" font-size="43">2021</text>
<line x1="1347.36" y1="1483.10" x2="1347.36" y2="1508.6" stroke="#000" stroke-width="3.4"/>
<text transform="translate(1363.26,1547) rotate(-45)" text-anchor="end" font-family="'Liberation Sans', Arial, sans-serif" font-weight="bold" font-size="43">2022</text>
<line x1="1401.92" y1="1483.10" x2="1401.92" y2="1508.6" stroke="#000" stroke-width="3.4"/>
<text transform="translate(1417.82,1547) rotate(-45)" text-anchor="end" font-family="'Liberation Sans', Arial, sans-serif" font-weight="bold" font-size="43">2023</text>
<line x1="1456.48" y1="1483.10" x2="1456.48" y2="1508.6" stroke="#000" stroke-width="3.4"/>
<text transform="translate(1472.38,1547) rotate(-45)" text-anchor="end" font-family="'Liberation Sans', Arial, sans-serif" font-weight="bold" font-size="43">2024</text>
<defs><linearGradient id="cb" x1="0" y1="0" x2="0" y2="1"><stop offset="0.0000" stop-color="#a0529c"/><stop offset="0.0142" stop-color="#9a4f9b"/><stop offset="0.0605" stop-color="#6a3f97"/><stop offset="0.1110" stop-color="#4a3f98"/><stop offset="0.1530" stop-color="#2c45a0"/><stop offset="0.2028" stop-color="#1d4a9c"/><stop offset="0.2858" stop-color="#2a62b0"/><stop offset="0.3167" stop-color="#2d7cc0"/><stop offset="0.3573" stop-color="#22b8e8"/><stop offset="0.3968" stop-color="#5ec0d5"/><stop offset="0.4413" stop-color="#6bc0b3"/><stop offset="0.4662" stop-color="#6cbf9a"/><stop offset="0.4982" stop-color="#6cbc7a"/><stop offset="0.5676" stop-color="#5fb531"/><stop offset="0.6441" stop-color="#78bb2c"/><stop offset="0.6833" stop-color="#9cc92a"/><stop offset="0.7295" stop-color="#c8d930"/><stop offset="0.7986" stop-color="#f5e52a"/><stop offset="0.8221" stop-color="#f8c622"/><stop offset="0.8683" stop-color="#f39a22"/><stop offset="0.9146" stop-color="#ee6f20"/><stop offset="0.9609" stop-color="#e8401e"/><stop offset="1.0000" stop-color="#e31e1a"/></linearGradient></defs>
<rect x="1541.6" y="918.8" width="87.3" height="564.5" fill="url(#cb)" stroke="#000" stroke-width="3"/>
<text x="1657.3" y="1499.10" font-family="'Liberation Sans', Arial, sans-serif" font-size="44">0</text>
<line x1="1541.6" y1="1382.86" x2="1557.1" y2="1382.86" stroke="#000" stroke-width="3"/>
<line x1="1613.9" y1="1382.86" x2="1628.9" y2="1382.86" stroke="#000" stroke-width="3"/>
<text x="1657.3" y="1398.66" font-family="'Liberation Sans', Arial, sans-serif" font-size="44">5</text>
<line x1="1541.6" y1="1282.41" x2="1557.1" y2="1282.41" stroke="#000" stroke-width="3"/>
<line x1="1613.9" y1="1282.41" x2="1628.9" y2="1282.41" stroke="#000" stroke-width="3"/>
<text x="1657.3" y="1298.21" font-family="'Liberation Sans', Arial, sans-serif" font-size="44">10</text>
<line x1="1541.6" y1="1181.97" x2="1557.1" y2="1181.97" stroke="#000" stroke-width="3"/>
<line x1="1613.9" y1="1181.97" x2="1628.9" y2="1181.97" stroke="#000" stroke-width="3"/>
<text x="1657.3" y="1197.77" font-family="'Liberation Sans', Arial, sans-serif" font-size="44">15</text>
<line x1="1541.6" y1="1081.52" x2="1557.1" y2="1081.52" stroke="#000" stroke-width="3"/>
<line x1="1613.9" y1="1081.52" x2="1628.9" y2="1081.52" stroke="#000" stroke-width="3"/>
<text x="1657.3" y="1097.32" font-family="'Liberation Sans', Arial, sans-serif" font-size="44">20</text>
<line x1="1541.6" y1="981.08" x2="1557.1" y2="981.08" stroke="#000" stroke-width="3"/>
<line x1="1613.9" y1="981.08" x2="1628.9" y2="981.08" stroke="#000" stroke-width="3"/>
<text x="1657.3" y="996.88" font-family="'Liberation Sans', Arial, sans-serif" font-size="44">25</text>
<text x="5.6" y="1708.3" font-family="'Liberation Serif', 'Times New Roman', serif" font-weight="bold" font-size="65" fill="#231815">C</text>
<text x="226.7" y="1665.50" font-family="'Liberation Sans', Arial, sans-serif" font-weight="bold" font-size="10" fill="#111">CiteSpace, v. 6.2.R4 (64-bit) Advanced</text>
<text x="226.7" y="1674.77" font-family="'Liberation Sans', Arial, sans-serif" font-weight="bold" font-size="10" fill="#111">June 7, 2024 at 10:48:55 AM CST</text>
<text x="226.7" y="1684.04" font-family="'Liberation Sans', Arial, sans-serif" font-weight="bold" font-size="10" fill="#111">WoS: D:\bibliomatric\autotransplatation\output</text>
<text x="226.7" y="1693.31" font-family="'Liberation Sans', Arial, sans-serif" font-weight="bold" font-size="10" fill="#111">Timespan: 2004-2024 (Slice Length=1)</text>
<text x="226.7" y="1702.58" font-family="'Liberation Sans', Arial, sans-serif" font-weight="bold" font-size="10" fill="#111">Selection Criteria: g-index (k=25), LRF=3.0, L/N=10, LBY=5, e=1.0</text>
<text x="226.7" y="1711.85" font-family="'Liberation Sans', Arial, sans-serif" font-weight="bold" font-size="10" fill="#111">Network: N=49, E=104 (Density=0.0884)</text>
<text x="226.7" y="1721.12" font-family="'Liberation Sans', Arial, sans-serif" font-weight="bold" font-size="10" fill="#111">Largest 30 CCs: 49 (100%)</text>
<text x="226.7" y="1730.39" font-family="'Liberation Sans', Arial, sans-serif" font-weight="bold" font-size="10" fill="#111">Nodes Labeled: 1.0%</text>
<text x="226.7" y="1739.66" font-family="'Liberation Sans', Arial, sans-serif" font-weight="bold" font-size="10" fill="#111">Pruning: None</text>
<line x1="745" y1="1985" x2="1040" y2="1991.5" stroke="#f08020" stroke-width="3.4" stroke-linecap="round"/>
<line x1="745" y1="1992.6" x2="880" y2="2001" stroke="#1e4aa0" stroke-width="2.4" stroke-linecap="round"/>
<line x1="748" y1="1970" x2="790" y2="1968" stroke="#9a9a9a" stroke-width="2" stroke-linecap="round"/>
<line x1="748" y1="2002" x2="880" y2="2012" stroke="#9a9a9a" stroke-width="2" stroke-linecap="round"/>
<line x1="745" y1="1975" x2="940" y2="1963" stroke="#9a9a9a" stroke-width="2" stroke-linecap="round"/>
<line x1="740" y1="2020" x2="1003" y2="1962" stroke="#a8a8a8" stroke-width="2" stroke-linecap="round"/>
<line x1="735" y1="2053" x2="823" y2="2087" stroke="#3a3aa8" stroke-width="2" stroke-linecap="round"/>
<line x1="728" y1="2068" x2="870" y2="2063" stroke="#3172ba" stroke-width="2" stroke-linecap="round"/>
<line x1="724" y1="2072" x2="880" y2="2120" stroke="#9a9a9a" stroke-width="2" stroke-linecap="round"/>
<line x1="718" y1="2081" x2="823" y2="2087" stroke="#3172ba" stroke-width="2" stroke-linecap="round"/>
<line x1="722" y1="2060" x2="994" y2="2030" stroke="#a8a8a8" stroke-width="2" stroke-linecap="round"/>
<line x1="730" y1="2045" x2="930" y2="2028" stroke="#9a9a9a" stroke-width="2" stroke-linecap="round"/>
<line x1="712" y1="2092" x2="859" y2="2142" stroke="#9a9a9a" stroke-width="2" stroke-linecap="round"/>
<line x1="716" y1="2086" x2="940" y2="2106" stroke="#b0b0b0" stroke-width="2.5" stroke-linecap="round"/>
<line x1="708" y1="2100" x2="889" y2="2234" stroke="#1e4aa0" stroke-width="1.8" stroke-linecap="round"/>
<line x1="705" y1="2104" x2="745" y2="2110" stroke="#1e4aa0" stroke-width="1.8" stroke-linecap="round"/>
<line x1="700" y1="2110" x2="720" y2="2122" stroke="#9a9a9a" stroke-width="1.6" stroke-linecap="round"/>
<line x1="724" y1="2078" x2="1045" y2="2125" stroke="#bdbdbd" stroke-width="2" stroke-linecap="round"/>
<line x1="792" y1="1984" x2="790" y2="1999" stroke="#eee838" stroke-width="3" stroke-linecap="round"/>
<line x1="766" y1="2072" x2="760" y2="2098" stroke="#eee838" stroke-width="3" stroke-linecap="round"/>
<line x1="770" y1="2073" x2="764" y2="2099" stroke="#9a9a9a" stroke-width="2" stroke-linecap="round"/>
<line x1="824" y1="1985" x2="838" y2="2030" stroke="#9a9a9a" stroke-width="2" stroke-linecap="round"/>
<line x1="845" y1="1975" x2="880" y2="2001" stroke="#9a9a9a" stroke-width="2" stroke-linecap="round"/>
<line x1="858" y1="1966" x2="910" y2="1965" stroke="#9a9a9a" stroke-width="2" stroke-linecap="round"/>
<line x1="838" y1="1975" x2="910" y2="2002" stroke="#9a9a9a" stroke-width="2" stroke-linecap="round"/>
<line x1="806" y1="1985" x2="823" y2="2060" stroke="#9a9a9a" stroke-width="2" stroke-linecap="round"/>
<line x1="836" y1="1980" x2="870" y2="2040" stroke="#9a9a9a" stroke-width="2" stroke-linecap="round"/>
<line x1="880.6" y1="2001.0" x2="940.3" y2="1963.5" stroke="#67b82f" stroke-width="9" stroke-linecap="round"/>
<line x1="940.3" y1="1963.5" x2="930.2" y2="2028.1" stroke="#6bbf78" stroke-width="9" stroke-linecap="round"/>
<line x1="880.6" y1="2001.0" x2="930.2" y2="2028.1" stroke="#6bbf78" stroke-width="3" stroke-linecap="round"/>
<line x1="820" y1="2026" x2="909" y2="2040" stroke="#6bbf78" stroke-width="4.5" stroke-linecap="round"/>
<line x1="930.2" y1="2028.1" x2="940.0" y2="2106.0" stroke="#6bbf78" stroke-width="7" stroke-linecap="round"/>
<line x1="880.6" y1="2001.0" x2="1016.7" y2="2206.7" stroke="#66c3d8" stroke-width="8" stroke-linecap="round"/>
<line x1="930.2" y1="2028.1" x2="859.0" y2="2142.4" stroke="#6bbf78" stroke-width="8" stroke-linecap="round"/>
<line x1="870.0" y1="2063.1" x2="994.5" y2="2029.2" stroke="#a0a0a0" stroke-width="4" stroke-linecap="round"/>
<line x1="870.0" y1="2063.1" x2="940.0" y2="2106.0" stroke="#a8a8a8" stroke-width="5" stroke-linecap="round"/>
<line x1="910" y1="2007" x2="951" y2="2016" stroke="#1e4aa0" stroke-width="4" stroke-linecap="round"/>
<line x1="940.3" y1="1963.5" x2="1003.4" y2="1962.0" stroke="#a8a8a8" stroke-width="2" stroke-linecap="round"/>
<line x1="975" y1="1980" x2="1045" y2="1995" stroke="#6bbf78" stroke-width="2" stroke-linecap="round"/>
<line x1="1030" y1="2045" x2="1110" y2="2070" stroke="#6bbf78" stroke-width="2" stroke-linecap="round"/>
<line x1="1095" y1="2100" x2="1153" y2="2080" stroke="#6bbf78" stroke-width="3" stroke-linecap="round"/>
<line x1="1030" y1="2045" x2="1105" y2="2078" stroke="#c8c8c8" stroke-width="5" stroke-linecap="round"/>
<line x1="745.0" y1="2145.0" x2="940.0" y2="2106.0" stroke="#aaaaaa" stroke-width="6" stroke-linecap="round"/>
<line x1="745.0" y1="2145.0" x2="859.0" y2="2142.4" stroke="#aaaaaa" stroke-width="5" stroke-linecap="round"/>
<line x1="775" y1="2120" x2="823" y2="2087" stroke="#6bbf78" stroke-width="5" stroke-linecap="round"/>
<line x1="745.0" y1="2145.0" x2="888.8" y2="2233.6" stroke="#1e4aa0" stroke-width="1.8" stroke-linecap="round"/>
<line x1="792" y1="2152" x2="1000" y2="2170" stroke="#6bbf78" stroke-width="1.6" stroke-linecap="round"/>
<line x1="790" y1="2130" x2="994" y2="2030" stroke="#aaaaaa" stroke-width="2" stroke-linecap="round"/>
<line x1="790" y1="2125" x2="870" y2="2063" stroke="#b0b0b0" stroke-width="3" stroke-linecap="round"/>
<line x1="945" y1="2128" x2="1080" y2="2202" stroke="#eee838" stroke-width="16" stroke-linecap="round"/>
<line x1="823.1" y1="2086.8" x2="958.9" y2="2221.0" stroke="#3172ba" stroke-width="8" stroke-linecap="round"/>
<line x1="935" y1="2165" x2="1012" y2="2184" stroke="#3172ba" stroke-width="5" stroke-linecap="round"/>
<line x1="952" y1="2184" x2="992" y2="2158" stroke="#3172ba" stroke-width="5" stroke-linecap="round"/>
<line x1="950" y1="2158" x2="1005" y2="2180" stroke="#c0c0c0" stroke-width="3" stroke-linecap="round"/>
<line x1="823.1" y1="2086.8" x2="888.8" y2="2233.6" stroke="#3172ba" stroke-width="16" stroke-linecap="round"/>
<line x1="859.0" y1="2142.4" x2="888.8" y2="2233.6" stroke="#3172ba" stroke-width="11" stroke-linecap="round"/>
<line x1="888.8" y1="2233.6" x2="958.9" y2="2221.0" stroke="#3172ba" stroke-width="11" stroke-linecap="round"/>
<line x1="888.8" y1="2233.6" x2="1045.4" y2="2125.1" stroke="#3172ba" stroke-width="6.5" stroke-linecap="round"/>
<line x1="859.0" y1="2142.4" x2="1102.0" y2="2223.8" stroke="#3172ba" stroke-width="6.5" stroke-linecap="round"/>
<line x1="859.0" y1="2142.4" x2="1016.7" y2="2206.7" stroke="#3172ba" stroke-width="5" stroke-linecap="round"/>
<line x1="880" y1="2150" x2="1060" y2="2200" stroke="#3172ba" stroke-width="5" stroke-linecap="round"/>
<line x1="900" y1="2170" x2="1045" y2="2150" stroke="#3172ba" stroke-width="5" stroke-linecap="round"/>
<line x1="930" y1="2200" x2="1030" y2="2160" stroke="#3172ba" stroke-width="4" stroke-linecap="round"/>
<line x1="870" y1="2160" x2="960" y2="2200" stroke="#2a62b8" stroke-width="2" stroke-linecap="round"/>
<line x1="823.1" y1="2086.8" x2="859.0" y2="2142.4" stroke="#e8221e" stroke-width="7" stroke-linecap="round"/>
<line x1="859.0" y1="2142.4" x2="958.9" y2="2221.0" stroke="#e8221e" stroke-width="9" stroke-linecap="round"/>
<line x1="800" y1="2168" x2="872" y2="2221" stroke="#1e4aa0" stroke-width="1.8" stroke-linecap="round"/>
<line x1="925" y1="2155" x2="942" y2="2190" stroke="#8a8a8a" stroke-width="1.8" stroke-linecap="round"/>
<line x1="859.0" y1="2142.4" x2="1102.0" y2="2223.8" stroke="#c8c8c8" stroke-width="5" stroke-linecap="round"/>
<line x1="940.0" y1="2106.0" x2="1102.0" y2="2223.8" stroke="#c8c8c8" stroke-width="6" stroke-linecap="round"/>
<line x1="958.9" y1="2221.0" x2="1102.0" y2="2223.8" stroke="#cccccc" stroke-width="8" stroke-linecap="round"/>
<line x1="1016.7" y1="2206.7" x2="1102.0" y2="2223.8" stroke="#cccccc" stroke-width="6" stroke-linecap="round"/>
<line x1="1100" y1="2154" x2="1165" y2="2169" stroke="#d0d0d0" stroke-width="8" stroke-linecap="round"/>
<line x1="1106" y1="2149" x2="1165" y2="2163" stroke="#8a8a8a" stroke-width="1.5" stroke-linecap="round"/>
<line x1="1108" y1="2146" x2="1165" y2="2160" stroke="#f08020" stroke-width="1.6" stroke-linecap="round"/>
<line x1="1140" y1="2185" x2="1165" y2="2186.5" stroke="#6bbf78" stroke-width="2" stroke-linecap="round"/>
<line x1="1175" y1="2117" x2="1186" y2="2124" stroke="#6bbf78" stroke-width="2" stroke-linecap="round"/>
<line x1="940.0" y1="2106.0" x2="1045.4" y2="2125.1" stroke="#cccccc" stroke-width="8" stroke-linecap="round"/>
<line x1="940.0" y1="2106.0" x2="958.9" y2="2221.0" stroke="#999999" stroke-width="2" stroke-linecap="round"/>
<line x1="859.0" y1="2142.4" x2="940.0" y2="2106.0" stroke="#6bbf78" stroke-width="2" stroke-linecap="round"/>
<ellipse cx="538.2" cy="1979.3" rx="210.4" ry="199.04" fill="#a24f9f"/>
<ellipse cx="538.2" cy="1979.3" rx="196.5" ry="185.89" fill="#ffffff"/>
<ellipse cx="538.2" cy="1979.3" rx="195.6" ry="185.04" fill="#e8221e"/>
<ellipse cx="538.2" cy="1979.3" rx="192.8" ry="182.39" fill="#f08020"/>
<ellipse cx="538.2" cy="1979.3" rx="179.9" ry="170.19" fill="#eee838"/>
<ellipse cx="538.2" cy="1979.3" rx="166.3" ry="157.32" fill="#92c424"/>
<ellipse cx="538.2" cy="1979.3" rx="151.3" ry="143.13" fill="#67b82f"/>
<ellipse cx="538.2" cy="1979.3" rx="136.2" ry="128.85" fill="#6bbf78"/>
<ellipse cx="538.2" cy="1979.3" rx="122.7" ry="116.07" fill="#66c3d8"/>
<ellipse cx="538.2" cy="1979.3" rx="106.9" ry="101.13" fill="#3172ba"/>
<ellipse cx="538.2" cy="1979.3" rx="82.9" ry="78.42" fill="#1e4aa0"/>
<ellipse cx="538.2" cy="1979.3" rx="64.8" ry="61.30" fill="#5a3f9b"/>
<defs><radialGradient id="gg1" cx="0.5" cy="0.5" r="0.5" fx="0.5" fy="0.58"><stop offset="0" stop-color="#acacac"/><stop offset="0.3" stop-color="#acacac" stop-opacity="0.92"/><stop offset="1" stop-color="#888888"/></radialGradient></defs>
<ellipse cx="538.2" cy="1979.3" rx="43.8" ry="41.43" fill="#888888"/>
<ellipse cx="538.2" cy="1979.3" rx="43.8" ry="41.43" fill="url(#gg1)"/>
<ellipse cx="810.2" cy="1926.7" rx="62.1" ry="58.75" fill="#e8221e"/>
<ellipse cx="810.2" cy="1926.7" rx="59.7" ry="56.48" fill="#f08020"/>
<ellipse cx="810.2" cy="1926.7" rx="54.5" ry="51.56" fill="#92c424"/>
<ellipse cx="810.2" cy="1926.7" rx="51.5" ry="48.72" fill="#67b82f"/>
<ellipse cx="810.2" cy="1926.7" rx="48.5" ry="45.88" fill="#6bbf78"/>
<ellipse cx="810.2" cy="1926.7" rx="45" ry="42.57" fill="#66c3d8"/>
<ellipse cx="810.2" cy="1926.7" rx="42.5" ry="40.20" fill="#3172ba"/>
<ellipse cx="810.2" cy="1926.7" rx="41" ry="38.79" fill="#1e4aa0"/>
<ellipse cx="810.2" cy="1926.7" rx="24" ry="22.70" fill="#5a3f9b"/>
<defs><radialGradient id="gg2" cx="0.5" cy="0.5" r="0.5" fx="0.5" fy="0.58"><stop offset="0" stop-color="#c3c3c3"/><stop offset="0.3" stop-color="#c3c3c3" stop-opacity="0.92"/><stop offset="1" stop-color="#8a8a8a"/></radialGradient></defs>
<ellipse cx="810.2" cy="1926.7" rx="10" ry="9.46" fill="#8a8a8a"/>
<ellipse cx="810.2" cy="1926.7" rx="10" ry="9.46" fill="url(#gg2)"/>
<ellipse cx="781.2" cy="2035.9" rx="39.4" ry="37.27" fill="#a24f9f"/>
<ellipse cx="781.2" cy="2035.9" rx="30.6" ry="28.95" fill="#e8221e"/>
<ellipse cx="781.2" cy="2035.9" rx="28.6" ry="27.06" fill="#f08020"/>
<ellipse cx="781.2" cy="2035.9" rx="23.1" ry="21.85" fill="#eee838"/>
<ellipse cx="781.2" cy="2035.9" rx="21.1" ry="19.96" fill="#67b82f"/>
<ellipse cx="781.2" cy="2035.9" rx="15.5" ry="14.66" fill="#6bbf78"/>
<ellipse cx="781.2" cy="2035.9" rx="6.8" ry="6.43" fill="#66c3d8"/>
<ellipse cx="781.2" cy="2035.9" rx="3" ry="2.84" fill="#3172ba"/>
<ellipse cx="745.0" cy="2145.0" rx="49.2" ry="46.54" fill="#eee838"/>
<ellipse cx="745.0" cy="2145.0" rx="44.5" ry="42.10" fill="#92c424"/>
<ellipse cx="745.0" cy="2145.0" rx="43" ry="40.68" fill="#67b82f"/>
<ellipse cx="745.0" cy="2145.0" rx="40" ry="37.84" fill="#6bbf78"/>
<ellipse cx="745.0" cy="2145.0" rx="36" ry="34.06" fill="#66c3d8"/>
<defs><radialGradient id="gg3" cx="0.5" cy="0.5" r="0.5" fx="0.5" fy="0.58"><stop offset="0" stop-color="#c3c3c3"/><stop offset="0.3" stop-color="#c3c3c3" stop-opacity="0.92"/><stop offset="1" stop-color="#858585"/></radialGradient></defs>
<ellipse cx="745.0" cy="2145.0" rx="17" ry="16.08" fill="#858585"/>
<ellipse cx="745.0" cy="2145.0" rx="17" ry="16.08" fill="url(#gg3)"/>
<ellipse cx="823.1" cy="2086.8" rx="31" ry="29.33" fill="#1e4aa0"/>
<ellipse cx="823.1" cy="2086.8" rx="27" ry="25.54" fill="#2a5cb0"/>
<ellipse cx="823.1" cy="2086.8" rx="23" ry="21.76" fill="#1e4aa0"/>
<ellipse cx="823.1" cy="2086.8" rx="19.5" ry="18.45" fill="#5a3f9b"/>
<defs><radialGradient id="gg4" cx="0.5" cy="0.5" r="0.5" fx="0.5" fy="0.58"><stop offset="0" stop-color="#c2c2c2"/><stop offset="0.3" stop-color="#c2c2c2" stop-opacity="0.92"/><stop offset="1" stop-color="#888888"/></radialGradient></defs>
<ellipse cx="823.1" cy="2086.8" rx="18" ry="17.03" fill="#888888"/>
<ellipse cx="823.1" cy="2086.8" rx="18" ry="17.03" fill="url(#gg4)"/>
<ellipse cx="880.6" cy="2001.0" rx="30.5" ry="28.85" fill="#67b82f"/>
<ellipse cx="880.6" cy="2001.0" rx="20.6" ry="19.49" fill="#6bbf78"/>
<ellipse cx="880.6" cy="2001.0" rx="15.3" ry="14.47" fill="#66c3d8"/>
<ellipse cx="880.6" cy="2001.0" rx="10.1" ry="9.55" fill="#1e4aa0"/>
<ellipse cx="880.6" cy="2001.0" rx="4.8" ry="4.54" fill="#dddddd"/>
<ellipse cx="940.3" cy="1963.5" rx="30.1" ry="28.47" fill="#67b82f"/>
<ellipse cx="940.3" cy="1963.5" rx="28.1" ry="26.58" fill="#6bbf78"/>
<ellipse cx="940.3" cy="1963.5" rx="19.8" ry="18.73" fill="#66c3d8"/>
<ellipse cx="940.3" cy="1963.5" rx="16.8" ry="15.89" fill="#3172ba"/>
<ellipse cx="940.3" cy="1963.5" rx="10.1" ry="9.55" fill="#1e4aa0"/>
<ellipse cx="940.3" cy="1963.5" rx="2" ry="1.89" fill="#aaaaaa"/>
<ellipse cx="1003.4" cy="1962.0" rx="33.8" ry="31.97" fill="#1e4aa0"/>
<defs><radialGradient id="gg5" cx="0.5" cy="0.5" r="0.5" fx="0.5" fy="0.58"><stop offset="0" stop-color="#d2d2d2"/><stop offset="0.3" stop-color="#d2d2d2" stop-opacity="0.92"/><stop offset="1" stop-color="#9c9c9c"/></radialGradient></defs>
<ellipse cx="1003.4" cy="1962.0" rx="31.6" ry="29.89" fill="#9c9c9c"/>
<ellipse cx="1003.4" cy="1962.0" rx="31.6" ry="29.89" fill="url(#gg5)"/>
<ellipse cx="930.2" cy="2028.1" rx="22.9" ry="21.66" fill="#67b82f"/>
<ellipse cx="930.2" cy="2028.1" rx="18.4" ry="17.41" fill="#6bbf78"/>
<ellipse cx="930.2" cy="2028.1" rx="14" ry="13.24" fill="#66c3d8"/>
<ellipse cx="930.2" cy="2028.1" rx="10.2" ry="9.65" fill="#5a3f9b"/>
<ellipse cx="930.2" cy="2028.1" rx="2" ry="1.89" fill="#aaaaaa"/>
<ellipse cx="870.0" cy="2063.1" rx="28.2" ry="26.68" fill="#67b82f"/>
<ellipse cx="870.0" cy="2063.1" rx="13.2" ry="12.49" fill="#6bbf78"/>
<ellipse cx="870.0" cy="2063.1" rx="10.2" ry="9.65" fill="#66c3d8"/>
<ellipse cx="870.0" cy="2063.1" rx="6.5" ry="6.15" fill="#5a3f9b"/>
<ellipse cx="870.0" cy="2063.1" rx="1.5" ry="1.42" fill="#aaaaaa"/>
<ellipse cx="994.5" cy="2029.2" rx="44.35" ry="41.96" fill="#a24f9f"/>
<ellipse cx="994.5" cy="2029.2" rx="38.3" ry="36.23" fill="#eee838"/>
<ellipse cx="994.5" cy="2029.2" rx="36" ry="34.06" fill="#67b82f"/>
<ellipse cx="994.5" cy="2029.2" rx="33.8" ry="31.97" fill="#1e4aa0"/>
<defs><radialGradient id="gg6" cx="0.5" cy="0.5" r="0.5" fx="0.5" fy="0.58"><stop offset="0" stop-color="#bcbcbc"/><stop offset="0.3" stop-color="#bcbcbc" stop-opacity="0.92"/><stop offset="1" stop-color="#808080"/></radialGradient></defs>
<ellipse cx="994.5" cy="2029.2" rx="22.5" ry="21.29" fill="#808080"/>
<ellipse cx="994.5" cy="2029.2" rx="22.5" ry="21.29" fill="url(#gg6)"/>
<ellipse cx="1101.3" cy="1993.4" rx="61.3" ry="57.99" fill="#f08020"/>
<ellipse cx="1101.3" cy="1993.4" rx="58.8" ry="55.62" fill="#eee838"/>
<ellipse cx="1101.3" cy="1993.4" rx="57.3" ry="54.21" fill="#67b82f"/>
<ellipse cx="1101.3" cy="1993.4" rx="55.8" ry="52.79" fill="#66c3d8"/>
<ellipse cx="1101.3" cy="1993.4" rx="54.3" ry="51.37" fill="#3172ba"/>
<ellipse cx="1101.3" cy="1993.4" rx="49.5" ry="46.83" fill="#1e4aa0"/>
<ellipse cx="1101.3" cy="1993.4" rx="48.4" ry="45.79" fill="#5a3f9b"/>
<defs><radialGradient id="gg7" cx="0.5" cy="0.5" r="0.5" fx="0.5" fy="0.58"><stop offset="0" stop-color="#cfcfcf"/><stop offset="0.3" stop-color="#cfcfcf" stop-opacity="0.92"/><stop offset="1" stop-color="#9a9a9a"/></radialGradient></defs>
<ellipse cx="1101.3" cy="1993.4" rx="38.5" ry="36.42" fill="#9a9a9a"/>
<ellipse cx="1101.3" cy="1993.4" rx="38.5" ry="36.42" fill="url(#gg7)"/>
<ellipse cx="1153.0" cy="2080.6" rx="48.2" ry="45.60" fill="#e8221e"/>
<ellipse cx="1153.0" cy="2080.6" rx="46.2" ry="43.71" fill="#92c424"/>
<ellipse cx="1153.0" cy="2080.6" rx="43.5" ry="41.15" fill="#67b82f"/>
<ellipse cx="1153.0" cy="2080.6" rx="41" ry="38.79" fill="#66c3d8"/>
<ellipse cx="1153.0" cy="2080.6" rx="27" ry="25.54" fill="#3172ba"/>
<ellipse cx="1153.0" cy="2080.6" rx="23.5" ry="22.23" fill="#1e4aa0"/>
<ellipse cx="1153.0" cy="2080.6" rx="18.5" ry="17.50" fill="#5a3f9b"/>
<defs><radialGradient id="gg8" cx="0.5" cy="0.5" r="0.5" fx="0.5" fy="0.58"><stop offset="0" stop-color="#bcbcbc"/><stop offset="0.3" stop-color="#bcbcbc" stop-opacity="0.92"/><stop offset="1" stop-color="#7a7a7a"/></radialGradient></defs>
<ellipse cx="1153.0" cy="2080.6" rx="14.8" ry="14.00" fill="#7a7a7a"/>
<ellipse cx="1153.0" cy="2080.6" rx="14.8" ry="14.00" fill="url(#gg8)"/>
<ellipse cx="940.0" cy="2106.0" rx="53.3" ry="50.42" fill="#eee838"/>
<ellipse cx="940.0" cy="2106.0" rx="49" ry="46.35" fill="#92c424"/>
<ellipse cx="940.0" cy="2106.0" rx="44" ry="41.62" fill="#67b82f"/>
<ellipse cx="940.0" cy="2106.0" rx="39.5" ry="37.37" fill="#6bbf78"/>
<ellipse cx="940.0" cy="2106.0" rx="32" ry="30.27" fill="#66c3d8"/>
<ellipse cx="940.0" cy="2106.0" rx="21.2" ry="20.06" fill="#3172ba"/>
<defs><radialGradient id="gg9" cx="0.5" cy="0.5" r="0.5" fx="0.5" fy="0.58"><stop offset="0" stop-color="#cbcbcb"/><stop offset="0.3" stop-color="#cbcbcb" stop-opacity="0.92"/><stop offset="1" stop-color="#858585"/></radialGradient></defs>
<ellipse cx="940.0" cy="2106.0" rx="19.5" ry="18.45" fill="#858585"/>
<ellipse cx="940.0" cy="2106.0" rx="19.5" ry="18.45" fill="url(#gg9)"/>
<ellipse cx="1045.4" cy="2125.1" rx="67.0" ry="63.38" fill="#e8221e"/>
<ellipse cx="1045.4" cy="2125.1" rx="61.4" ry="58.08" fill="#f08020"/>
<ellipse cx="1045.4" cy="2125.1" rx="54.4" ry="51.46" fill="#eee838"/>
<ellipse cx="1045.4" cy="2125.1" rx="47.8" ry="45.22" fill="#92c424"/>
<ellipse cx="1045.4" cy="2125.1" rx="43.9" ry="41.53" fill="#67b82f"/>
<ellipse cx="1045.4" cy="2125.1" rx="41" ry="38.79" fill="#6bbf78"/>
<ellipse cx="1045.4" cy="2125.1" rx="38.2" ry="36.14" fill="#3172ba"/>
<ellipse cx="1045.4" cy="2125.1" rx="36.4" ry="34.43" fill="#1e4aa0"/>
<ellipse cx="1045.4" cy="2125.1" rx="35" ry="33.11" fill="#5a3f9b"/>
<defs><radialGradient id="gg10" cx="0.5" cy="0.5" r="0.5" fx="0.5" fy="0.58"><stop offset="0" stop-color="#a9a9a9"/><stop offset="0.3" stop-color="#a9a9a9" stop-opacity="0.92"/><stop offset="1" stop-color="#838383"/></radialGradient></defs>
<ellipse cx="1045.4" cy="2125.1" rx="29" ry="27.43" fill="#838383"/>
<ellipse cx="1045.4" cy="2125.1" rx="29" ry="27.43" fill="url(#gg10)"/>
<ellipse cx="859.0" cy="2142.4" rx="33" ry="31.22" fill="#e8221e"/>
<ellipse cx="859.0" cy="2142.4" rx="29.8" ry="28.19" fill="#f08020"/>
<ellipse cx="859.0" cy="2142.4" rx="25.7" ry="24.31" fill="#67b82f"/>
<ellipse cx="859.0" cy="2142.4" rx="10.3" ry="9.74" fill="#6bbf78"/>
<ellipse cx="859.0" cy="2142.4" rx="2.9" ry="2.74" fill="#66c3d8"/>
<ellipse cx="958.9" cy="2221.0" rx="35.85" ry="33.91" fill="#e8221e"/>
<ellipse cx="958.9" cy="2221.0" rx="32.6" ry="30.84" fill="#f08020"/>
<ellipse cx="958.9" cy="2221.0" rx="30.1" ry="28.47" fill="#67b82f"/>
<ellipse cx="958.9" cy="2221.0" rx="24.4" ry="23.08" fill="#66c3d8"/>
<ellipse cx="958.9" cy="2221.0" rx="22" ry="20.81" fill="#3172ba"/>
<ellipse cx="958.9" cy="2221.0" rx="14.7" ry="13.91" fill="#1e4aa0"/>
<defs><radialGradient id="gg11" cx="0.5" cy="0.5" r="0.5" fx="0.5" fy="0.58"><stop offset="0" stop-color="#b8b8b8"/><stop offset="0.3" stop-color="#b8b8b8" stop-opacity="0.92"/><stop offset="1" stop-color="#888888"/></radialGradient></defs>
<ellipse cx="958.9" cy="2221.0" rx="11.4" ry="10.78" fill="#888888"/>
<ellipse cx="958.9" cy="2221.0" rx="11.4" ry="10.78" fill="url(#gg11)"/>
<ellipse cx="1016.7" cy="2206.7" rx="25.3" ry="23.93" fill="#67b82f"/>
<ellipse cx="1016.7" cy="2206.7" rx="10.6" ry="10.03" fill="#66c3d8"/>
<ellipse cx="1016.7" cy="2206.7" rx="4.9" ry="4.64" fill="#3172ba"/>
<ellipse cx="888.8" cy="2233.6" rx="20.4" ry="19.30" fill="#67b82f"/>
<ellipse cx="888.8" cy="2233.6" rx="17.9" ry="16.93" fill="#3172ba"/>
<ellipse cx="888.8" cy="2233.6" rx="13" ry="12.30" fill="#1e4aa0"/>
<defs><radialGradient id="gg12" cx="0.5" cy="0.5" r="0.5" fx="0.5" fy="0.58"><stop offset="0" stop-color="#9f9f9f"/><stop offset="0.3" stop-color="#9f9f9f" stop-opacity="0.92"/><stop offset="1" stop-color="#7a7a7a"/></radialGradient></defs>
<ellipse cx="888.8" cy="2233.6" rx="7.3" ry="6.91" fill="#7a7a7a"/>
<ellipse cx="888.8" cy="2233.6" rx="7.3" ry="6.91" fill="url(#gg12)"/>
<ellipse cx="1102.0" cy="2223.8" rx="59.3" ry="56.10" fill="#f08020"/>
<ellipse cx="1102.0" cy="2223.8" rx="57.3" ry="54.21" fill="#eee838"/>
<ellipse cx="1102.0" cy="2223.8" rx="55.2" ry="52.22" fill="#66c3d8"/>
<ellipse cx="1102.0" cy="2223.8" rx="52.9" ry="50.04" fill="#3172ba"/>
<ellipse cx="1102.0" cy="2223.8" rx="43.5" ry="41.15" fill="#1e4aa0"/>
<ellipse cx="1102.0" cy="2223.8" rx="41.1" ry="38.88" fill="#5a3f9b"/>
<defs><radialGradient id="gg13" cx="0.5" cy="0.5" r="0.5" fx="0.5" fy="0.58"><stop offset="0" stop-color="#cecece"/><stop offset="0.3" stop-color="#cecece" stop-opacity="0.92"/><stop offset="1" stop-color="#a4a4a4"/></radialGradient></defs>
<ellipse cx="1102.0" cy="2223.8" rx="34.5" ry="32.64" fill="#a4a4a4"/>
<ellipse cx="1102.0" cy="2223.8" rx="34.5" ry="32.64" fill="url(#gg13)"/>
<ellipse cx="1304.6" cy="2201.9" rx="145.5" ry="137.64" fill="#e8221e"/>
<ellipse cx="1304.6" cy="2201.9" rx="140.6" ry="133.01" fill="#f08020"/>
<ellipse cx="1304.6" cy="2201.9" rx="125.4" ry="118.63" fill="#eee838"/>
<ellipse cx="1304.6" cy="2201.9" rx="117.2" ry="110.87" fill="#92c424"/>
<ellipse cx="1304.6" cy="2201.9" rx="102" ry="96.49" fill="#67b82f"/>
<ellipse cx="1304.6" cy="2201.9" rx="93.7" ry="88.64" fill="#6bbf78"/>
<ellipse cx="1304.6" cy="2201.9" rx="75.8" ry="71.71" fill="#66c3d8"/>
<ellipse cx="1304.6" cy="2201.9" rx="62" ry="58.65" fill="#3172ba"/>
<ellipse cx="1304.6" cy="2201.9" rx="49.6" ry="46.92" fill="#1e4aa0"/>
<ellipse cx="1304.6" cy="2201.9" rx="33.1" ry="31.31" fill="#5a3f9b"/>
<defs><radialGradient id="gg14" cx="0.5" cy="0.5" r="0.5" fx="0.5" fy="0.58"><stop offset="0" stop-color="#a9a9a9"/><stop offset="0.3" stop-color="#a9a9a9" stop-opacity="0.92"/><stop offset="1" stop-color="#7a7a7a"/></radialGradient></defs>
<ellipse cx="1304.6" cy="2201.9" rx="22" ry="20.81" fill="#7a7a7a"/>
<ellipse cx="1304.6" cy="2201.9" rx="22" ry="20.81" fill="url(#gg14)"/>
<rect x="505.0" y="1949.8" width="69.7" height="41.0" rx="13.7" fill="#ffffff" fill-opacity="0.55"/>
<text x="506.24" y="1979.50" font-family="'Liberation Sans', Arial, sans-serif" font-weight="bold" font-size="31.42" textLength="66.59" lengthAdjust="spacingAndGlyphs" stroke="#000" stroke-width="0.38">USA</text>
<rect x="777.0" y="1906.1" width="71.7" height="30.4" rx="10.1" fill="#ffffff" fill-opacity="0.3"/>
<text x="778.57" y="1928.10" font-family="'Liberation Sans', Arial, sans-serif" font-weight="bold" font-size="23.32" textLength="68.10" lengthAdjust="spacingAndGlyphs" stroke="#000" stroke-width="0.28">ITALY</text>
<rect x="738.5" y="2020.7" width="93.5" height="21.7" rx="7.2" fill="#ffffff" fill-opacity="0.3"/>
<text x="740.34" y="2036.40" font-family="'Liberation Sans', Arial, sans-serif" font-weight="bold" font-size="16.62" textLength="89.50" lengthAdjust="spacingAndGlyphs" stroke="#000" stroke-width="0.20">ENGLAND</text>
<rect x="711.6" y="2130.7" width="68.8" height="19.5" rx="6.5" fill="#ffffff" fill-opacity="0.3"/>
<text x="713.50" y="2144.80" font-family="'Liberation Sans', Arial, sans-serif" font-weight="bold" font-size="14.94" textLength="64.70" lengthAdjust="spacingAndGlyphs" stroke="#000" stroke-width="0.18">FRANCE</text>
<rect x="902.5" y="2090.5" width="82.8" height="23.5" rx="7.8" fill="#ffffff" fill-opacity="0.35"/>
<text x="904.28" y="2107.50" font-family="'Liberation Sans', Arial, sans-serif" font-weight="bold" font-size="18.02" textLength="78.88" lengthAdjust="spacingAndGlyphs" stroke="#000" stroke-width="0.22">CANADA</text>
<rect x="1009.7" y="2106.3" width="73.8" height="25.5" rx="8.5" fill="#ffffff" fill-opacity="0.45"/>
<text x="1011.42" y="2124.80" font-family="'Liberation Sans', Arial, sans-serif" font-weight="bold" font-size="19.55" textLength="69.97" lengthAdjust="spacingAndGlyphs" stroke="#000" stroke-width="0.23">JAPAN</text>
<rect x="1067.3" y="1978.3" width="70.3" height="22.0" rx="7.3" fill="#ffffff" fill-opacity="0.55"/>
<text x="1069.12" y="1994.30" font-family="'Liberation Sans', Arial, sans-serif" font-weight="bold" font-size="16.90" textLength="66.31" lengthAdjust="spacingAndGlyphs" stroke="#000" stroke-width="0.20">BRAZIL</text>
<rect x="1094.0" y="2066.6" width="118.9" height="20.0" rx="6.7" fill="#ffffff" fill-opacity="0.35"/>
<text x="1095.89" y="2081.10" font-family="'Liberation Sans', Arial, sans-serif" font-weight="bold" font-size="15.36" textLength="114.82" lengthAdjust="spacingAndGlyphs" stroke="#000" stroke-width="0.18">SOUTH KOREA</text>
<rect x="1056.8" y="2207.5" width="97.4" height="22.8" rx="7.6" fill="#ffffff" fill-opacity="0.45"/>
<text x="1058.60" y="2224.00" font-family="'Liberation Sans', Arial, sans-serif" font-weight="bold" font-size="17.46" textLength="93.45" lengthAdjust="spacingAndGlyphs" stroke="#000" stroke-width="0.21">GERMANY</text>
<rect x="1258.1" y="2176.4" width="94.6" height="35.1" rx="11.7" fill="#ffffff" fill-opacity="0.45"/>
<text x="1259.52" y="2201.90" font-family="'Liberation Sans', Arial, sans-serif" font-weight="bold" font-size="26.96" textLength="91.22" lengthAdjust="spacingAndGlyphs" stroke="#000" stroke-width="0.32">CHINA</text>
<rect x="243.4" y="2227.70" width="47.8" height="7.80" fill="#e8191e"/>
<text x="267.5" y="2233.30" text-anchor="middle" font-family="'Liberation Sans', Arial, sans-serif" font-weight="bold" font-size="5">2024</text>
<rect x="243.4" y="2235.20" width="47.8" height="7.80" fill="#f07e1e"/>
<text x="267.5" y="2240.80" text-anchor="middle" font-family="'Liberation Sans', Arial, sans-serif" font-weight="bold" font-size="5">2023</text>
<rect x="243.4" y="2242.71" width="47.8" height="7.80" fill="#f0e92f"/>
<text x="267.5" y="2248.31" text-anchor="middle" font-family="'Liberation Sans', Arial, sans-serif" font-weight="bold" font-size="5">2022</text>
<rect x="243.4" y="2250.21" width="47.8" height="7.80" fill="#8fc425"/>
<text x="267.5" y="2255.81" text-anchor="middle" font-family="'Liberation Sans', Arial, sans-serif" font-weight="bold" font-size="5">2021</text>
<rect x="243.4" y="2257.72" width="47.8" height="7.80" fill="#65b52f"/>
<text x="267.5" y="2263.32" text-anchor="middle" font-family="'Liberation Sans', Arial, sans-serif" font-weight="bold" font-size="5">2020</text>
<rect x="243.4" y="2265.22" width="47.8" height="7.80" fill="#6cbc72"/>
<text x="267.5" y="2270.82" text-anchor="middle" font-family="'Liberation Sans', Arial, sans-serif" font-weight="bold" font-size="5">2019</text>
<rect x="243.4" y="2272.73" width="47.8" height="7.80" fill="#65c2d8"/>
<text x="267.5" y="2278.33" text-anchor="middle" font-family="'Liberation Sans', Arial, sans-serif" font-weight="bold" font-size="5">2018</text>
<rect x="243.4" y="2280.23" width="47.8" height="7.80" fill="#2f6fb8"/>
<text x="267.5" y="2285.83" text-anchor="middle" font-family="'Liberation Sans', Arial, sans-serif" font-weight="bold" font-size="5">2017</text>
<rect x="243.4" y="2287.74" width="47.8" height="7.80" fill="#1d47a0"/>
<text x="267.5" y="2293.34" text-anchor="middle" font-family="'Liberation Sans', Arial, sans-serif" font-weight="bold" font-size="5">2016</text>
<rect x="243.4" y="2295.24" width="47.8" height="7.80" fill="#5a3e9c"/>
<text x="267.5" y="2300.84" text-anchor="middle" font-family="'Liberation Sans', Arial, sans-serif" font-weight="bold" font-size="5">2015</text>
<rect x="243.4" y="2302.75" width="47.8" height="7.80" fill="#7f7f7f"/>
<text x="267.5" y="2308.35" text-anchor="middle" font-family="'Liberation Sans', Arial, sans-serif" font-weight="bold" font-size="5">2014</text>
<rect x="243.4" y="2310.25" width="47.8" height="7.80" fill="#888888"/>
<text x="267.5" y="2315.85" text-anchor="middle" font-family="'Liberation Sans', Arial, sans-serif" font-weight="bold" font-size="5">2013</text>
<rect x="243.4" y="2317.76" width="47.8" height="7.80" fill="#929292"/>
<text x="267.5" y="2323.36" text-anchor="middle" font-family="'Liberation Sans', Arial, sans-serif" font-weight="bold" font-size="5">2012</text>
<rect x="243.4" y="2325.26" width="47.8" height="7.80" fill="#9c9c9c"/>
<text x="267.5" y="2330.86" text-anchor="middle" font-family="'Liberation Sans', Arial, sans-serif" font-weight="bold" font-size="5">2011</text>
<rect x="243.4" y="2332.77" width="47.8" height="7.80" fill="#a6a6a6"/>
<text x="267.5" y="2338.37" text-anchor="middle" font-family="'Liberation Sans', Arial, sans-serif" font-weight="bold" font-size="5">2010</text>
<rect x="243.4" y="2340.27" width="47.8" height="7.80" fill="#b1b1b1"/>
<text x="267.5" y="2345.87" text-anchor="middle" font-family="'Liberation Sans', Arial, sans-serif" font-weight="bold" font-size="5">2009</text>
<rect x="243.4" y="2347.78" width="47.8" height="7.80" fill="#bcbcbc"/>
<text x="267.5" y="2353.38" text-anchor="middle" font-family="'Liberation Sans', Arial, sans-serif" font-weight="bold" font-size="5">2008</text>
<rect x="243.4" y="2355.28" width="47.8" height="7.80" fill="#c8c8c8"/>
<text x="267.5" y="2360.88" text-anchor="middle" font-family="'Liberation Sans', Arial, sans-serif" font-weight="bold" font-size="5">2007</text>
<rect x="243.4" y="2362.79" width="47.8" height="7.80" fill="#d4d4d4"/>
<text x="267.5" y="2368.39" text-anchor="middle" font-family="'Liberation Sans', Arial, sans-serif" font-weight="bold" font-size="5">2006</text>
<rect x="243.4" y="2370.29" width="47.8" height="7.80" fill="#e0e0e0"/>
<text x="267.5" y="2375.89" text-anchor="middle" font-family="'Liberation Sans', Arial, sans-serif" font-weight="bold" font-size="5">2005</text>
<rect x="243.4" y="2377.80" width="47.8" height="7.80" fill="#ececec"/>
<text x="267.5" y="2383.40" text-anchor="middle" font-family="'Liberation Sans', Arial, sans-serif" font-weight="bold" font-size="5">2004</text>
<defs><path id="csarc" d="M232.2 2445 Q268.5 2439 305.5 2446"/></defs>
<text font-family="'Liberation Sans', Arial, sans-serif" font-weight="bold" font-size="16.5" fill="#939ca6" textLength="74" lengthAdjust="spacingAndGlyphs"><textPath href="#csarc">CiteSpace</textPath></text>
<defs><linearGradient id="lg1" x1="0" y1="0" x2="0" y2="1"><stop offset="0" stop-color="#808080"/><stop offset="1" stop-color="#e8e8e8"/></linearGradient></defs>
<rect x="240.8" y="2453" width="10" height="8" fill="url(#lg1)"/>
<rect x="252.5" y="2450" width="10" height="11" fill="url(#lg1)"/>
<rect x="263.2" y="2446.5" width="10" height="14.5" fill="url(#lg1)"/>
<rect x="275" y="2450" width="10" height="11" fill="url(#lg1)"/>
<rect x="287" y="2453" width="10" height="8" fill="url(#lg1)"/>
<path d="M223.5 2466.6 L266.5 2467.8 M226 2461.5 L266.5 2467.6 M270 2467.8 L312.5 2466.6 M270 2467.6 L310 2461.5" stroke="#7f9db5" stroke-width="1.6" fill="none"/>
</svg>
</body></html>
